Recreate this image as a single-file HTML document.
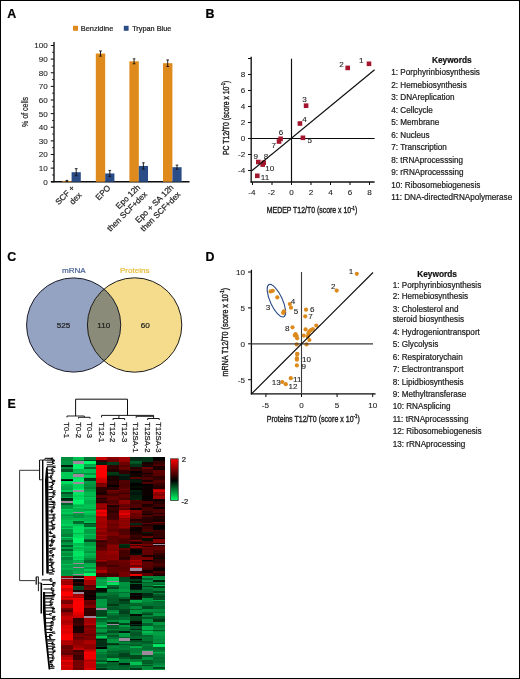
<!DOCTYPE html>
<html><head><meta charset="utf-8"><style>
html,body{margin:0;padding:0;background:#fff;}
body{width:520px;height:679px;overflow:hidden;position:relative;}
svg{position:absolute;left:0;top:0;font-family:"Liberation Sans", sans-serif;}
.frame{position:absolute;left:0;top:0;width:518px;height:677px;border:1px solid #000;}
</style></head><body>
<svg width="520" height="679" viewBox="0 0 520 679">
<defs><filter id="soft" x="0" y="0" width="520" height="679" filterUnits="userSpaceOnUse"><feGaussianBlur stdDeviation="0.3"/></filter></defs>
<rect x="0" y="0" width="520" height="679" fill="#fff"/>
<g filter="url(#soft)">
<text x="7.30" y="18.00" font-size="12.4" text-anchor="start" fill="#000" stroke="#000" stroke-width="0.22" font-weight="bold" >A</text>
<text x="205.60" y="17.90" font-size="12.4" text-anchor="start" fill="#000" stroke="#000" stroke-width="0.22" font-weight="bold" >B</text>
<text x="7.20" y="260.60" font-size="12.4" text-anchor="start" fill="#000" stroke="#000" stroke-width="0.22" font-weight="bold" >C</text>
<text x="205.60" y="260.90" font-size="12.4" text-anchor="start" fill="#000" stroke="#000" stroke-width="0.22" font-weight="bold" >D</text>
<text x="7.60" y="408.00" font-size="12.4" text-anchor="start" fill="#000" stroke="#000" stroke-width="0.22" font-weight="bold" >E</text>
<line x1="54.00" y1="42.00" x2="54.00" y2="182.25" stroke="#0a0a0a" stroke-width="1.3"/>
<line x1="51.00" y1="181.75" x2="189.50" y2="181.75" stroke="#0a0a0a" stroke-width="1.3"/>
<line x1="50.80" y1="181.75" x2="54.00" y2="181.75" stroke="#0a0a0a" stroke-width="1"/>
<text x="47.70" y="184.65" font-size="8.1" text-anchor="end" fill="#1e1e1e" stroke="#1e1e1e" stroke-width="0.1" font-weight="normal" >0</text>
<line x1="50.80" y1="168.12" x2="54.00" y2="168.12" stroke="#0a0a0a" stroke-width="1"/>
<text x="47.70" y="171.03" font-size="8.1" text-anchor="end" fill="#1e1e1e" stroke="#1e1e1e" stroke-width="0.1" font-weight="normal" >10</text>
<line x1="50.80" y1="154.50" x2="54.00" y2="154.50" stroke="#0a0a0a" stroke-width="1"/>
<text x="47.70" y="157.40" font-size="8.1" text-anchor="end" fill="#1e1e1e" stroke="#1e1e1e" stroke-width="0.1" font-weight="normal" >20</text>
<line x1="50.80" y1="140.88" x2="54.00" y2="140.88" stroke="#0a0a0a" stroke-width="1"/>
<text x="47.70" y="143.78" font-size="8.1" text-anchor="end" fill="#1e1e1e" stroke="#1e1e1e" stroke-width="0.1" font-weight="normal" >30</text>
<line x1="50.80" y1="127.25" x2="54.00" y2="127.25" stroke="#0a0a0a" stroke-width="1"/>
<text x="47.70" y="130.15" font-size="8.1" text-anchor="end" fill="#1e1e1e" stroke="#1e1e1e" stroke-width="0.1" font-weight="normal" >40</text>
<line x1="50.80" y1="113.62" x2="54.00" y2="113.62" stroke="#0a0a0a" stroke-width="1"/>
<text x="47.70" y="116.53" font-size="8.1" text-anchor="end" fill="#1e1e1e" stroke="#1e1e1e" stroke-width="0.1" font-weight="normal" >50</text>
<line x1="50.80" y1="100.00" x2="54.00" y2="100.00" stroke="#0a0a0a" stroke-width="1"/>
<text x="47.70" y="102.90" font-size="8.1" text-anchor="end" fill="#1e1e1e" stroke="#1e1e1e" stroke-width="0.1" font-weight="normal" >60</text>
<line x1="50.80" y1="86.38" x2="54.00" y2="86.38" stroke="#0a0a0a" stroke-width="1"/>
<text x="47.70" y="89.28" font-size="8.1" text-anchor="end" fill="#1e1e1e" stroke="#1e1e1e" stroke-width="0.1" font-weight="normal" >70</text>
<line x1="50.80" y1="72.75" x2="54.00" y2="72.75" stroke="#0a0a0a" stroke-width="1"/>
<text x="47.70" y="75.65" font-size="8.1" text-anchor="end" fill="#1e1e1e" stroke="#1e1e1e" stroke-width="0.1" font-weight="normal" >80</text>
<line x1="50.80" y1="59.12" x2="54.00" y2="59.12" stroke="#0a0a0a" stroke-width="1"/>
<text x="47.70" y="62.02" font-size="8.1" text-anchor="end" fill="#1e1e1e" stroke="#1e1e1e" stroke-width="0.1" font-weight="normal" >90</text>
<line x1="50.80" y1="45.50" x2="54.00" y2="45.50" stroke="#0a0a0a" stroke-width="1"/>
<text x="47.70" y="48.40" font-size="8.1" text-anchor="end" fill="#1e1e1e" stroke="#1e1e1e" stroke-width="0.1" font-weight="normal" >100</text>
<line x1="52.20" y1="174.94" x2="54.00" y2="174.94" stroke="#0a0a0a" stroke-width="0.9"/>
<line x1="52.20" y1="161.31" x2="54.00" y2="161.31" stroke="#0a0a0a" stroke-width="0.9"/>
<line x1="52.20" y1="147.69" x2="54.00" y2="147.69" stroke="#0a0a0a" stroke-width="0.9"/>
<line x1="52.20" y1="134.06" x2="54.00" y2="134.06" stroke="#0a0a0a" stroke-width="0.9"/>
<line x1="52.20" y1="120.44" x2="54.00" y2="120.44" stroke="#0a0a0a" stroke-width="0.9"/>
<line x1="52.20" y1="106.81" x2="54.00" y2="106.81" stroke="#0a0a0a" stroke-width="0.9"/>
<line x1="52.20" y1="93.19" x2="54.00" y2="93.19" stroke="#0a0a0a" stroke-width="0.9"/>
<line x1="52.20" y1="79.56" x2="54.00" y2="79.56" stroke="#0a0a0a" stroke-width="0.9"/>
<line x1="52.20" y1="65.94" x2="54.00" y2="65.94" stroke="#0a0a0a" stroke-width="0.9"/>
<line x1="52.20" y1="52.31" x2="54.00" y2="52.31" stroke="#0a0a0a" stroke-width="0.9"/>
<rect x="73.00" y="25.80" width="5.00" height="5.00" fill="#DE8A1C"/>
<text x="80.80" y="31.00" font-size="7.4" text-anchor="start" fill="#1e1e1e" stroke="#1e1e1e" stroke-width="0.22" font-weight="normal" >Benzidine</text>
<rect x="123.80" y="25.80" width="4.80" height="5.00" fill="#2C4D88"/>
<text x="132.20" y="31.00" font-size="7.3" text-anchor="start" fill="#1e1e1e" stroke="#1e1e1e" stroke-width="0.22" font-weight="normal" >Trypan Blue</text>
<rect x="62.20" y="180.93" width="9.40" height="0.82" fill="#DE8A1C"/>
<rect x="71.60" y="172.21" width="9.20" height="9.54" fill="#2C4D88"/>
<line x1="66.90" y1="180.39" x2="66.90" y2="181.48" stroke="#111" stroke-width="0.9"/>
<line x1="65.60" y1="180.39" x2="68.20" y2="180.39" stroke="#111" stroke-width="0.9"/>
<line x1="65.60" y1="181.48" x2="68.20" y2="181.48" stroke="#111" stroke-width="0.9"/>
<line x1="76.20" y1="168.67" x2="76.20" y2="175.75" stroke="#111" stroke-width="0.9"/>
<line x1="74.90" y1="168.67" x2="77.50" y2="168.67" stroke="#111" stroke-width="0.9"/>
<line x1="74.90" y1="175.75" x2="77.50" y2="175.75" stroke="#111" stroke-width="0.9"/>
<rect x="95.80" y="53.54" width="9.40" height="128.21" fill="#DE8A1C"/>
<rect x="105.20" y="173.44" width="9.20" height="8.31" fill="#2C4D88"/>
<line x1="100.50" y1="50.95" x2="100.50" y2="56.13" stroke="#111" stroke-width="0.9"/>
<line x1="99.20" y1="50.95" x2="101.80" y2="50.95" stroke="#111" stroke-width="0.9"/>
<line x1="99.20" y1="56.13" x2="101.80" y2="56.13" stroke="#111" stroke-width="0.9"/>
<line x1="109.80" y1="170.44" x2="109.80" y2="176.44" stroke="#111" stroke-width="0.9"/>
<line x1="108.50" y1="170.44" x2="111.10" y2="170.44" stroke="#111" stroke-width="0.9"/>
<line x1="108.50" y1="176.44" x2="111.10" y2="176.44" stroke="#111" stroke-width="0.9"/>
<rect x="129.40" y="61.30" width="9.40" height="120.45" fill="#DE8A1C"/>
<rect x="138.80" y="165.94" width="9.20" height="15.80" fill="#2C4D88"/>
<line x1="134.10" y1="58.85" x2="134.10" y2="63.76" stroke="#111" stroke-width="0.9"/>
<line x1="132.80" y1="58.85" x2="135.40" y2="58.85" stroke="#111" stroke-width="0.9"/>
<line x1="132.80" y1="63.76" x2="135.40" y2="63.76" stroke="#111" stroke-width="0.9"/>
<line x1="143.40" y1="162.81" x2="143.40" y2="169.08" stroke="#111" stroke-width="0.9"/>
<line x1="142.10" y1="162.81" x2="144.70" y2="162.81" stroke="#111" stroke-width="0.9"/>
<line x1="142.10" y1="169.08" x2="144.70" y2="169.08" stroke="#111" stroke-width="0.9"/>
<rect x="163.00" y="63.21" width="9.40" height="118.54" fill="#DE8A1C"/>
<rect x="172.40" y="167.17" width="9.20" height="14.58" fill="#2C4D88"/>
<line x1="167.70" y1="59.94" x2="167.70" y2="66.48" stroke="#111" stroke-width="0.9"/>
<line x1="166.40" y1="59.94" x2="169.00" y2="59.94" stroke="#111" stroke-width="0.9"/>
<line x1="166.40" y1="66.48" x2="169.00" y2="66.48" stroke="#111" stroke-width="0.9"/>
<line x1="177.00" y1="165.13" x2="177.00" y2="169.22" stroke="#111" stroke-width="0.9"/>
<line x1="175.70" y1="165.13" x2="178.30" y2="165.13" stroke="#111" stroke-width="0.9"/>
<line x1="175.70" y1="169.22" x2="178.30" y2="169.22" stroke="#111" stroke-width="0.9"/>
<text transform="translate(75.20,188.70) rotate(-45)" font-size="8.2" text-anchor="end" fill="#1e1e1e" stroke="#1e1e1e" stroke-width="0.22">SCF +</text>
<text transform="translate(82.10,195.60) rotate(-45)" font-size="8.2" text-anchor="end" fill="#1e1e1e" stroke="#1e1e1e" stroke-width="0.22">dex</text>
<text transform="translate(111.10,188.50) rotate(-45)" font-size="8.2" text-anchor="end" fill="#1e1e1e" stroke="#1e1e1e" stroke-width="0.22">EPO</text>
<text transform="translate(140.70,187.90) rotate(-45)" font-size="8.2" text-anchor="end" fill="#1e1e1e" stroke="#1e1e1e" stroke-width="0.22">Epo 12h</text>
<text transform="translate(147.60,194.80) rotate(-45)" font-size="8.2" text-anchor="end" fill="#1e1e1e" stroke="#1e1e1e" stroke-width="0.22">then SCF+dex</text>
<text transform="translate(174.10,187.90) rotate(-45)" font-size="8.2" text-anchor="end" fill="#1e1e1e" stroke="#1e1e1e" stroke-width="0.22">Epo + SA 12h</text>
<text transform="translate(181.00,194.80) rotate(-45)" font-size="8.2" text-anchor="end" fill="#1e1e1e" stroke="#1e1e1e" stroke-width="0.22">then SCF+dex</text>
<text transform="translate(27.9,111.9) rotate(-90)" font-size="9.6" text-anchor="middle" fill="#1e1e1e" stroke="#1e1e1e" stroke-width="0.22" textLength="30" lengthAdjust="spacingAndGlyphs">% of cells</text>
<line x1="251.20" y1="56.70" x2="251.20" y2="182.50" stroke="#0a0a0a" stroke-width="1.3"/>
<line x1="250.60" y1="182.00" x2="374.60" y2="182.00" stroke="#0a0a0a" stroke-width="1.3"/>
<line x1="251.20" y1="138.50" x2="374.60" y2="138.50" stroke="#0a0a0a" stroke-width="1.15"/>
<line x1="291.50" y1="58.70" x2="291.50" y2="182.00" stroke="#0a0a0a" stroke-width="1.15"/>
<line x1="248.00" y1="170.50" x2="251.20" y2="170.50" stroke="#0a0a0a" stroke-width="1"/>
<text x="245.30" y="173.40" font-size="8.1" text-anchor="end" fill="#1e1e1e" stroke="#1e1e1e" stroke-width="0.1" font-weight="normal" >-4</text>
<line x1="248.00" y1="154.50" x2="251.20" y2="154.50" stroke="#0a0a0a" stroke-width="1"/>
<text x="245.30" y="157.40" font-size="8.1" text-anchor="end" fill="#1e1e1e" stroke="#1e1e1e" stroke-width="0.1" font-weight="normal" >-2</text>
<line x1="248.00" y1="138.50" x2="251.20" y2="138.50" stroke="#0a0a0a" stroke-width="1"/>
<text x="245.30" y="141.40" font-size="8.1" text-anchor="end" fill="#1e1e1e" stroke="#1e1e1e" stroke-width="0.1" font-weight="normal" >0</text>
<line x1="248.00" y1="122.50" x2="251.20" y2="122.50" stroke="#0a0a0a" stroke-width="1"/>
<text x="245.30" y="125.40" font-size="8.1" text-anchor="end" fill="#1e1e1e" stroke="#1e1e1e" stroke-width="0.1" font-weight="normal" >2</text>
<line x1="248.00" y1="106.50" x2="251.20" y2="106.50" stroke="#0a0a0a" stroke-width="1"/>
<text x="245.30" y="109.40" font-size="8.1" text-anchor="end" fill="#1e1e1e" stroke="#1e1e1e" stroke-width="0.1" font-weight="normal" >4</text>
<line x1="248.00" y1="90.50" x2="251.20" y2="90.50" stroke="#0a0a0a" stroke-width="1"/>
<text x="245.30" y="93.40" font-size="8.1" text-anchor="end" fill="#1e1e1e" stroke="#1e1e1e" stroke-width="0.1" font-weight="normal" >6</text>
<line x1="248.00" y1="74.50" x2="251.20" y2="74.50" stroke="#0a0a0a" stroke-width="1"/>
<text x="245.30" y="77.40" font-size="8.1" text-anchor="end" fill="#1e1e1e" stroke="#1e1e1e" stroke-width="0.1" font-weight="normal" >8</text>
<line x1="248.00" y1="58.50" x2="251.20" y2="58.50" stroke="#0a0a0a" stroke-width="1"/>
<line x1="252.50" y1="182.00" x2="252.50" y2="185.00" stroke="#0a0a0a" stroke-width="1"/>
<text x="251.90" y="195.40" font-size="8.1" text-anchor="middle" fill="#1e1e1e" stroke="#1e1e1e" stroke-width="0.1" font-weight="normal" >-4</text>
<line x1="272.00" y1="182.00" x2="272.00" y2="185.00" stroke="#0a0a0a" stroke-width="1"/>
<text x="271.40" y="195.40" font-size="8.1" text-anchor="middle" fill="#1e1e1e" stroke="#1e1e1e" stroke-width="0.1" font-weight="normal" >-2</text>
<line x1="291.50" y1="182.00" x2="291.50" y2="185.00" stroke="#0a0a0a" stroke-width="1"/>
<text x="291.50" y="195.40" font-size="8.1" text-anchor="middle" fill="#1e1e1e" stroke="#1e1e1e" stroke-width="0.1" font-weight="normal" >0</text>
<line x1="311.00" y1="182.00" x2="311.00" y2="185.00" stroke="#0a0a0a" stroke-width="1"/>
<text x="311.00" y="195.40" font-size="8.1" text-anchor="middle" fill="#1e1e1e" stroke="#1e1e1e" stroke-width="0.1" font-weight="normal" >2</text>
<line x1="330.50" y1="182.00" x2="330.50" y2="185.00" stroke="#0a0a0a" stroke-width="1"/>
<text x="330.50" y="195.40" font-size="8.1" text-anchor="middle" fill="#1e1e1e" stroke="#1e1e1e" stroke-width="0.1" font-weight="normal" >4</text>
<line x1="350.00" y1="182.00" x2="350.00" y2="185.00" stroke="#0a0a0a" stroke-width="1"/>
<text x="350.00" y="195.40" font-size="8.1" text-anchor="middle" fill="#1e1e1e" stroke="#1e1e1e" stroke-width="0.1" font-weight="normal" >6</text>
<line x1="369.50" y1="182.00" x2="369.50" y2="185.00" stroke="#0a0a0a" stroke-width="1"/>
<text x="369.50" y="195.40" font-size="8.1" text-anchor="middle" fill="#1e1e1e" stroke="#1e1e1e" stroke-width="0.1" font-weight="normal" >8</text>
<rect x="366.70" y="61.50" width="4.60" height="4.60" fill="#A3182F"/>
<rect x="345.40" y="65.60" width="4.60" height="4.60" fill="#A3182F"/>
<rect x="303.80" y="103.40" width="4.60" height="4.60" fill="#A3182F"/>
<rect x="297.60" y="121.20" width="4.60" height="4.60" fill="#A3182F"/>
<rect x="300.60" y="135.50" width="4.60" height="4.60" fill="#A3182F"/>
<rect x="278.30" y="136.50" width="4.60" height="4.60" fill="#A3182F"/>
<rect x="276.70" y="139.20" width="4.60" height="4.60" fill="#A3182F"/>
<rect x="261.40" y="160.40" width="4.60" height="4.60" fill="#A3182F"/>
<rect x="256.00" y="159.70" width="4.60" height="4.60" fill="#A3182F"/>
<rect x="260.40" y="162.30" width="4.60" height="4.60" fill="#A3182F"/>
<rect x="255.00" y="173.50" width="4.60" height="4.60" fill="#A3182F"/>
<line x1="251.50" y1="171.00" x2="374.60" y2="69.80" stroke="#0a0a0a" stroke-width="1.15"/>
<text x="361.20" y="62.90" font-size="8.1" text-anchor="middle" fill="#1e1e1e" stroke="#1e1e1e" stroke-width="0.1" font-weight="normal" >1</text>
<text x="341.50" y="67.30" font-size="8.1" text-anchor="middle" fill="#1e1e1e" stroke="#1e1e1e" stroke-width="0.1" font-weight="normal" >2</text>
<text x="304.60" y="101.90" font-size="8.1" text-anchor="middle" fill="#1e1e1e" stroke="#1e1e1e" stroke-width="0.1" font-weight="normal" >3</text>
<text x="304.60" y="121.70" font-size="8.1" text-anchor="middle" fill="#1e1e1e" stroke="#1e1e1e" stroke-width="0.1" font-weight="normal" >4</text>
<text x="309.80" y="143.10" font-size="8.1" text-anchor="middle" fill="#1e1e1e" stroke="#1e1e1e" stroke-width="0.1" font-weight="normal" >5</text>
<text x="281.00" y="135.40" font-size="8.1" text-anchor="middle" fill="#1e1e1e" stroke="#1e1e1e" stroke-width="0.1" font-weight="normal" >6</text>
<text x="273.70" y="148.30" font-size="8.1" text-anchor="middle" fill="#1e1e1e" stroke="#1e1e1e" stroke-width="0.1" font-weight="normal" >7</text>
<text x="266.00" y="159.10" font-size="8.1" text-anchor="middle" fill="#1e1e1e" stroke="#1e1e1e" stroke-width="0.1" font-weight="normal" >8</text>
<text x="255.80" y="159.40" font-size="8.1" text-anchor="middle" fill="#1e1e1e" stroke="#1e1e1e" stroke-width="0.1" font-weight="normal" >9</text>
<text x="269.80" y="170.60" font-size="8.1" text-anchor="middle" fill="#1e1e1e" stroke="#1e1e1e" stroke-width="0.1" font-weight="normal" >10</text>
<text x="265.00" y="179.60" font-size="8.1" text-anchor="middle" fill="#1e1e1e" stroke="#1e1e1e" stroke-width="0.1" font-weight="normal" >11</text>
<text transform="translate(266.80,213.10) scale(0.7712,1)" font-size="9.0" style="fill:#1e1e1e;stroke:#1e1e1e;stroke-width:0.38px">MEDEP T12/T0 (score x 10<tspan font-size="5.58" dy="-3.6">-1</tspan><tspan dy="3.6">)</tspan></text>
<text transform="translate(229.00,155.00) rotate(-90) scale(0.7581,1)" font-size="9.0" style="fill:#1e1e1e;stroke:#1e1e1e;stroke-width:0.38px">PC T12/T0 (score x 10<tspan font-size="5.58" dy="-3.6">-1</tspan><tspan dy="3.6">)</tspan></text>
<text x="451.75" y="62.50" font-size="8.3" text-anchor="middle" fill="#111" stroke="#111" stroke-width="0.22" font-weight="bold" >Keywords</text>
<text x="391.30" y="75.40" font-size="8.15" text-anchor="start" fill="#1e1e1e" stroke="#1e1e1e" stroke-width="0.22" font-weight="normal" >1: Porphyrinbiosynthesis</text>
<text x="391.30" y="87.87" font-size="8.15" text-anchor="start" fill="#1e1e1e" stroke="#1e1e1e" stroke-width="0.22" font-weight="normal" >2: Hemebiosynthesis</text>
<text x="391.30" y="100.34" font-size="8.15" text-anchor="start" fill="#1e1e1e" stroke="#1e1e1e" stroke-width="0.22" font-weight="normal" >3: DNAreplication</text>
<text x="391.30" y="112.81" font-size="8.15" text-anchor="start" fill="#1e1e1e" stroke="#1e1e1e" stroke-width="0.22" font-weight="normal" >4: Cellcycle</text>
<text x="391.30" y="125.28" font-size="8.15" text-anchor="start" fill="#1e1e1e" stroke="#1e1e1e" stroke-width="0.22" font-weight="normal" >5: Membrane</text>
<text x="391.30" y="137.75" font-size="8.15" text-anchor="start" fill="#1e1e1e" stroke="#1e1e1e" stroke-width="0.22" font-weight="normal" >6: Nucleus</text>
<text x="391.30" y="150.22" font-size="8.15" text-anchor="start" fill="#1e1e1e" stroke="#1e1e1e" stroke-width="0.22" font-weight="normal" >7: Transcription</text>
<text x="391.30" y="162.69" font-size="8.15" text-anchor="start" fill="#1e1e1e" stroke="#1e1e1e" stroke-width="0.22" font-weight="normal" >8: tRNAprocesssing</text>
<text x="391.30" y="175.16" font-size="8.15" text-anchor="start" fill="#1e1e1e" stroke="#1e1e1e" stroke-width="0.22" font-weight="normal" >9: rRNAprocesssing</text>
<text x="391.30" y="187.63" font-size="8.15" text-anchor="start" fill="#1e1e1e" stroke="#1e1e1e" stroke-width="0.22" font-weight="normal" >10: Ribosomebiogenesis</text>
<text x="391.30" y="200.10" font-size="8.15" text-anchor="start" fill="#1e1e1e" stroke="#1e1e1e" stroke-width="0.22" font-weight="normal" >11: DNA-directedRNApolymerase</text>
<defs><clipPath id="cl"><circle cx="73.65" cy="325" r="47.1"/></clipPath></defs>
<circle cx="73.65" cy="325" r="47.1" fill="#93A3C1"/>
<circle cx="134.6" cy="325" r="47.2" fill="#F5DC8C"/>
<circle cx="134.6" cy="325" r="47.2" fill="#8A8B78" clip-path="url(#cl)"/>
<circle cx="73.65" cy="325" r="47.1" fill="none" stroke="#1c1c2a" stroke-width="1"/>
<circle cx="134.6" cy="325" r="47.2" fill="none" stroke="#1c1c1c" stroke-width="1"/>
<text x="73.85" y="272.60" font-size="8.1" text-anchor="middle" fill="#4A6496" stroke="#4A6496" stroke-width="0.22" font-weight="normal" >mRNA</text>
<text x="134.75" y="272.60" font-size="8.1" text-anchor="middle" fill="#E8BC3C" stroke="#E8BC3C" stroke-width="0.22" font-weight="normal" >Proteins</text>
<text x="63.50" y="327.50" font-size="8.1" text-anchor="middle" fill="#1e1e1e" stroke="#1e1e1e" stroke-width="0.22" font-weight="normal" >525</text>
<text x="103.80" y="327.50" font-size="8.1" text-anchor="middle" fill="#1e1e1e" stroke="#1e1e1e" stroke-width="0.22" font-weight="normal" >110</text>
<text x="145.30" y="327.50" font-size="8.1" text-anchor="middle" fill="#1e1e1e" stroke="#1e1e1e" stroke-width="0.22" font-weight="normal" >60</text>
<line x1="251.40" y1="269.80" x2="251.40" y2="394.30" stroke="#0a0a0a" stroke-width="1.3"/>
<line x1="250.80" y1="393.80" x2="375.60" y2="393.80" stroke="#0a0a0a" stroke-width="1.3"/>
<line x1="248.00" y1="379.70" x2="251.40" y2="379.70" stroke="#0a0a0a" stroke-width="1"/>
<text x="245.00" y="382.60" font-size="8.1" text-anchor="end" fill="#1e1e1e" stroke="#1e1e1e" stroke-width="0.1" font-weight="normal" >-5</text>
<line x1="248.00" y1="343.80" x2="251.40" y2="343.80" stroke="#0a0a0a" stroke-width="1"/>
<text x="245.00" y="346.70" font-size="8.1" text-anchor="end" fill="#1e1e1e" stroke="#1e1e1e" stroke-width="0.1" font-weight="normal" >0</text>
<line x1="248.00" y1="307.90" x2="251.40" y2="307.90" stroke="#0a0a0a" stroke-width="1"/>
<text x="245.00" y="310.80" font-size="8.1" text-anchor="end" fill="#1e1e1e" stroke="#1e1e1e" stroke-width="0.1" font-weight="normal" >5</text>
<line x1="248.00" y1="272.00" x2="251.40" y2="272.00" stroke="#0a0a0a" stroke-width="1"/>
<text x="245.00" y="274.90" font-size="8.1" text-anchor="end" fill="#1e1e1e" stroke="#1e1e1e" stroke-width="0.1" font-weight="normal" >10</text>
<line x1="265.90" y1="393.80" x2="265.90" y2="397.00" stroke="#0a0a0a" stroke-width="1"/>
<text x="265.30" y="408.10" font-size="8.1" text-anchor="middle" fill="#1e1e1e" stroke="#1e1e1e" stroke-width="0.1" font-weight="normal" >-5</text>
<line x1="301.50" y1="393.80" x2="301.50" y2="397.00" stroke="#0a0a0a" stroke-width="1"/>
<text x="301.50" y="408.10" font-size="8.1" text-anchor="middle" fill="#1e1e1e" stroke="#1e1e1e" stroke-width="0.1" font-weight="normal" >0</text>
<line x1="337.10" y1="393.80" x2="337.10" y2="397.00" stroke="#0a0a0a" stroke-width="1"/>
<text x="337.10" y="408.10" font-size="8.1" text-anchor="middle" fill="#1e1e1e" stroke="#1e1e1e" stroke-width="0.1" font-weight="normal" >5</text>
<line x1="372.70" y1="393.80" x2="372.70" y2="397.00" stroke="#0a0a0a" stroke-width="1"/>
<text x="372.70" y="408.10" font-size="8.1" text-anchor="middle" fill="#1e1e1e" stroke="#1e1e1e" stroke-width="0.1" font-weight="normal" >10</text>
<ellipse cx="276.4" cy="300.7" rx="17.7" ry="6.1" transform="rotate(65.5 276.4 300.7)" fill="none" stroke="#2A4A88" stroke-width="1.1"/>
<circle cx="356.8" cy="273.8" r="2.1" fill="#DC8A1E"/>
<circle cx="336.7" cy="290.6" r="2.1" fill="#DC8A1E"/>
<circle cx="270.6" cy="291.4" r="2.1" fill="#DC8A1E"/>
<circle cx="272.8" cy="290.8" r="2.1" fill="#DC8A1E"/>
<circle cx="277.3" cy="297.4" r="2.1" fill="#DC8A1E"/>
<circle cx="283.9" cy="311.3" r="2.1" fill="#DC8A1E"/>
<circle cx="283.2" cy="312.9" r="2.1" fill="#DC8A1E"/>
<circle cx="289.8" cy="304" r="2.1" fill="#DC8A1E"/>
<circle cx="291" cy="307.7" r="2.1" fill="#DC8A1E"/>
<circle cx="306" cy="309.7" r="2.1" fill="#DC8A1E"/>
<circle cx="305.2" cy="316.3" r="2.1" fill="#DC8A1E"/>
<circle cx="292.5" cy="327.3" r="2.1" fill="#DC8A1E"/>
<circle cx="295.6" cy="334.2" r="2.1" fill="#DC8A1E"/>
<circle cx="294.8" cy="335.4" r="2.1" fill="#DC8A1E"/>
<circle cx="296.7" cy="336" r="2.1" fill="#DC8A1E"/>
<circle cx="297.1" cy="338.3" r="2.1" fill="#DC8A1E"/>
<circle cx="296.7" cy="344.4" r="2.1" fill="#DC8A1E"/>
<circle cx="306.5" cy="344.4" r="2.1" fill="#DC8A1E"/>
<circle cx="303.7" cy="335.6" r="2.1" fill="#DC8A1E"/>
<circle cx="305.6" cy="329.4" r="2.1" fill="#DC8A1E"/>
<circle cx="308.3" cy="333.7" r="2.1" fill="#DC8A1E"/>
<circle cx="309.4" cy="331.3" r="2.1" fill="#DC8A1E"/>
<circle cx="310.9" cy="330.2" r="2.1" fill="#DC8A1E"/>
<circle cx="312.9" cy="329" r="2.1" fill="#DC8A1E"/>
<circle cx="316.3" cy="325.6" r="2.1" fill="#DC8A1E"/>
<circle cx="309.4" cy="340" r="2.1" fill="#DC8A1E"/>
<circle cx="307.7" cy="336.5" r="2.1" fill="#DC8A1E"/>
<circle cx="297.3" cy="353.8" r="2.1" fill="#DC8A1E"/>
<circle cx="297.2" cy="354.2" r="2.1" fill="#DC8A1E"/>
<circle cx="296.9" cy="358.2" r="2.1" fill="#DC8A1E"/>
<circle cx="296.9" cy="359.7" r="2.1" fill="#DC8A1E"/>
<circle cx="296.9" cy="365.4" r="2.1" fill="#DC8A1E"/>
<circle cx="290.8" cy="378.2" r="2.1" fill="#DC8A1E"/>
<circle cx="282.3" cy="382" r="2.1" fill="#DC8A1E"/>
<circle cx="285.8" cy="384.2" r="2.1" fill="#DC8A1E"/>
<line x1="301.50" y1="272.00" x2="301.50" y2="393.80" stroke="#3a3a3a" stroke-width="1.1"/>
<line x1="251.40" y1="343.80" x2="373.00" y2="343.80" stroke="#3a3a3a" stroke-width="1.3"/>
<line x1="251.50" y1="393.80" x2="373.00" y2="272.50" stroke="#0a0a0a" stroke-width="1.15"/>
<text x="351.00" y="274.10" font-size="8.1" text-anchor="middle" fill="#1e1e1e" stroke="#1e1e1e" stroke-width="0.1" font-weight="normal" >1</text>
<text x="333.20" y="289.20" font-size="8.1" text-anchor="middle" fill="#1e1e1e" stroke="#1e1e1e" stroke-width="0.1" font-weight="normal" >2</text>
<text x="268.00" y="310.30" font-size="8.1" text-anchor="middle" fill="#1e1e1e" stroke="#1e1e1e" stroke-width="0.1" font-weight="normal" >3</text>
<text x="293.00" y="304.30" font-size="8.1" text-anchor="middle" fill="#1e1e1e" stroke="#1e1e1e" stroke-width="0.1" font-weight="normal" >4</text>
<text x="296.00" y="313.80" font-size="8.1" text-anchor="middle" fill="#1e1e1e" stroke="#1e1e1e" stroke-width="0.1" font-weight="normal" >5</text>
<text x="312.30" y="312.30" font-size="8.1" text-anchor="middle" fill="#1e1e1e" stroke="#1e1e1e" stroke-width="0.1" font-weight="normal" >6</text>
<text x="310.60" y="319.00" font-size="8.1" text-anchor="middle" fill="#1e1e1e" stroke="#1e1e1e" stroke-width="0.1" font-weight="normal" >7</text>
<text x="287.20" y="330.80" font-size="8.1" text-anchor="middle" fill="#1e1e1e" stroke="#1e1e1e" stroke-width="0.1" font-weight="normal" >8</text>
<text x="303.80" y="368.70" font-size="8.1" text-anchor="middle" fill="#1e1e1e" stroke="#1e1e1e" stroke-width="0.1" font-weight="normal" >9</text>
<text x="306.50" y="362.10" font-size="8.1" text-anchor="middle" fill="#1e1e1e" stroke="#1e1e1e" stroke-width="0.1" font-weight="normal" >10</text>
<text x="297.20" y="382.10" font-size="8.1" text-anchor="middle" fill="#1e1e1e" stroke="#1e1e1e" stroke-width="0.1" font-weight="normal" >11</text>
<text x="293.10" y="389.40" font-size="8.1" text-anchor="middle" fill="#1e1e1e" stroke="#1e1e1e" stroke-width="0.1" font-weight="normal" >12</text>
<text x="276.20" y="384.70" font-size="8.1" text-anchor="middle" fill="#1e1e1e" stroke="#1e1e1e" stroke-width="0.1" font-weight="normal" >13</text>
<text transform="translate(266.80,422.00) scale(0.7829,1)" font-size="9.0" style="fill:#1e1e1e;stroke:#1e1e1e;stroke-width:0.38px">Proteins T12/T0 (score x 10<tspan font-size="5.58" dy="-3.6">-1</tspan><tspan dy="3.6">)</tspan></text>
<text transform="translate(227.60,376.50) rotate(-90) scale(0.7943,1)" font-size="9.0" style="fill:#1e1e1e;stroke:#1e1e1e;stroke-width:0.38px">mRNA T12/T0 (score x 10<tspan font-size="5.58" dy="-3.6">-1</tspan><tspan dy="3.6">)</tspan></text>
<text x="437.10" y="276.50" font-size="8.3" text-anchor="middle" fill="#111" stroke="#111" stroke-width="0.22" font-weight="bold" >Keywords</text>
<text x="392.70" y="287.70" font-size="8.15" text-anchor="start" fill="#1e1e1e" stroke="#1e1e1e" stroke-width="0.22" font-weight="normal" >1: Porphyrinbiosynthesis</text>
<text x="392.70" y="299.20" font-size="8.15" text-anchor="start" fill="#1e1e1e" stroke="#1e1e1e" stroke-width="0.22" font-weight="normal" >2: Hemebiosynthesis</text>
<text x="392.70" y="312.20" font-size="8.15" text-anchor="start" fill="#1e1e1e" stroke="#1e1e1e" stroke-width="0.22" font-weight="normal" >3: Cholesterol and</text>
<text x="392.70" y="321.60" font-size="8.15" text-anchor="start" fill="#1e1e1e" stroke="#1e1e1e" stroke-width="0.22" font-weight="normal" >steroid biosynthesis</text>
<text x="392.70" y="334.80" font-size="8.15" text-anchor="start" fill="#1e1e1e" stroke="#1e1e1e" stroke-width="0.22" font-weight="normal" >4: Hydrogeniontransport</text>
<text x="392.70" y="347.20" font-size="8.15" text-anchor="start" fill="#1e1e1e" stroke="#1e1e1e" stroke-width="0.22" font-weight="normal" >5: Glycolysis</text>
<text x="392.70" y="359.90" font-size="8.15" text-anchor="start" fill="#1e1e1e" stroke="#1e1e1e" stroke-width="0.22" font-weight="normal" >6: Respiratorychain</text>
<text x="392.70" y="372.00" font-size="8.15" text-anchor="start" fill="#1e1e1e" stroke="#1e1e1e" stroke-width="0.22" font-weight="normal" >7: Electrontransport</text>
<text x="392.70" y="384.60" font-size="8.15" text-anchor="start" fill="#1e1e1e" stroke="#1e1e1e" stroke-width="0.22" font-weight="normal" >8: Lipidbiosynthesis</text>
<text x="392.70" y="397.30" font-size="8.15" text-anchor="start" fill="#1e1e1e" stroke="#1e1e1e" stroke-width="0.22" font-weight="normal" >9: Methyltransferase</text>
<text x="392.70" y="409.40" font-size="8.15" text-anchor="start" fill="#1e1e1e" stroke="#1e1e1e" stroke-width="0.22" font-weight="normal" >10: RNAsplicing</text>
<text x="392.70" y="422.30" font-size="8.15" text-anchor="start" fill="#1e1e1e" stroke="#1e1e1e" stroke-width="0.22" font-weight="normal" >11: tRNAprocesssing</text>
<text x="392.70" y="434.40" font-size="8.15" text-anchor="start" fill="#1e1e1e" stroke="#1e1e1e" stroke-width="0.22" font-weight="normal" >12: Ribosomebiogenesis</text>
<text x="392.70" y="447.10" font-size="8.15" text-anchor="start" fill="#1e1e1e" stroke="#1e1e1e" stroke-width="0.22" font-weight="normal" >13: rRNAprocessing</text>
<g shape-rendering="crispEdges">
<rect x="61.20" y="457.40" width="11.93" height="3.90" fill="#008e3d"/>
<rect x="61.20" y="460.90" width="11.93" height="0.70" fill="#007934"/>
<rect x="61.20" y="461.20" width="11.93" height="3.80" fill="#009540"/>
<rect x="61.20" y="464.60" width="11.93" height="2.40" fill="#001a0b"/>
<rect x="61.20" y="466.60" width="11.93" height="0.80" fill="#003015"/>
<rect x="61.20" y="467.00" width="11.93" height="1.90" fill="#008b3c"/>
<rect x="61.20" y="468.50" width="11.93" height="1.30" fill="#006e2f"/>
<rect x="61.20" y="469.40" width="11.93" height="3.20" fill="#005323"/>
<rect x="61.20" y="472.20" width="11.93" height="2.40" fill="#00cb57"/>
<rect x="61.20" y="474.20" width="11.93" height="3.90" fill="#00ca57"/>
<rect x="61.20" y="477.70" width="11.93" height="1.40" fill="#00ca57"/>
<rect x="61.20" y="478.70" width="11.93" height="1.10" fill="#00ba50"/>
<rect x="61.20" y="479.40" width="11.93" height="1.40" fill="#002a12"/>
<rect x="61.20" y="480.40" width="11.93" height="1.30" fill="#030000"/>
<rect x="61.20" y="481.30" width="11.93" height="2.80" fill="#00de5f"/>
<rect x="61.20" y="483.70" width="11.93" height="2.40" fill="#00b54e"/>
<rect x="61.20" y="485.70" width="11.93" height="2.90" fill="#00a948"/>
<rect x="61.20" y="488.20" width="11.93" height="1.90" fill="#00a346"/>
<rect x="61.20" y="489.70" width="11.93" height="3.00" fill="#00cb57"/>
<rect x="61.20" y="492.30" width="11.93" height="2.30" fill="#005223"/>
<rect x="61.20" y="494.20" width="11.93" height="3.40" fill="#008238"/>
<rect x="61.20" y="497.20" width="11.93" height="1.20" fill="#00aa49"/>
<rect x="61.20" y="498.00" width="11.93" height="1.40" fill="#001a0b"/>
<rect x="61.20" y="499.00" width="11.93" height="1.40" fill="#002610"/>
<rect x="61.20" y="500.00" width="11.93" height="1.30" fill="#003517"/>
<rect x="61.20" y="500.90" width="11.93" height="1.40" fill="#9e8a9c"/>
<rect x="61.20" y="501.90" width="11.93" height="1.30" fill="#9e8a9c"/>
<rect x="61.20" y="502.80" width="11.93" height="2.40" fill="#005f29"/>
<rect x="61.20" y="504.80" width="11.93" height="1.90" fill="#00933f"/>
<rect x="61.20" y="506.30" width="11.93" height="2.40" fill="#009640"/>
<rect x="61.20" y="508.30" width="11.93" height="0.70" fill="#009942"/>
<rect x="61.20" y="508.60" width="11.93" height="1.40" fill="#00cf59"/>
<rect x="61.20" y="509.60" width="11.93" height="2.40" fill="#00bb50"/>
<rect x="61.20" y="511.60" width="11.93" height="3.10" fill="#00c956"/>
<rect x="61.20" y="514.30" width="11.93" height="1.40" fill="#00a848"/>
<rect x="61.20" y="515.30" width="11.93" height="1.40" fill="#00943f"/>
<rect x="61.20" y="516.30" width="11.93" height="1.40" fill="#00ae4a"/>
<rect x="61.20" y="517.30" width="11.93" height="1.40" fill="#00a748"/>
<rect x="61.20" y="518.30" width="11.93" height="1.90" fill="#00b04b"/>
<rect x="61.20" y="519.80" width="11.93" height="2.90" fill="#00c253"/>
<rect x="61.20" y="522.30" width="11.93" height="1.90" fill="#00c153"/>
<rect x="61.20" y="523.80" width="11.93" height="2.90" fill="#00d35a"/>
<rect x="61.20" y="526.30" width="11.93" height="1.40" fill="#00ac4a"/>
<rect x="61.20" y="527.30" width="11.93" height="1.40" fill="#00a747"/>
<rect x="61.20" y="528.30" width="11.93" height="1.50" fill="#00ce58"/>
<rect x="61.20" y="529.40" width="11.93" height="3.90" fill="#00933f"/>
<rect x="61.20" y="532.90" width="11.93" height="1.40" fill="#00913e"/>
<rect x="61.20" y="533.90" width="11.93" height="3.40" fill="#008037"/>
<rect x="61.20" y="536.90" width="11.93" height="1.40" fill="#00ce58"/>
<rect x="61.20" y="537.90" width="11.93" height="2.40" fill="#009b42"/>
<rect x="61.20" y="539.90" width="11.93" height="2.80" fill="#006a2d"/>
<rect x="61.20" y="542.30" width="11.93" height="1.40" fill="#00903e"/>
<rect x="61.20" y="543.30" width="11.93" height="1.40" fill="#009640"/>
<rect x="61.20" y="544.30" width="11.93" height="0.80" fill="#009f44"/>
<rect x="61.20" y="544.70" width="11.93" height="2.30" fill="#005d28"/>
<rect x="61.20" y="546.60" width="11.93" height="3.20" fill="#00a045"/>
<rect x="61.20" y="549.40" width="11.93" height="2.40" fill="#005f29"/>
<rect x="61.20" y="551.40" width="11.93" height="2.40" fill="#00a045"/>
<rect x="61.20" y="553.40" width="11.93" height="2.90" fill="#008e3d"/>
<rect x="61.20" y="555.90" width="11.93" height="1.40" fill="#00b94f"/>
<rect x="61.20" y="556.90" width="11.93" height="1.90" fill="#008137"/>
<rect x="61.20" y="558.40" width="11.93" height="2.00" fill="#008037"/>
<rect x="61.20" y="560.00" width="11.93" height="3.90" fill="#009b42"/>
<rect x="61.20" y="563.50" width="11.93" height="1.40" fill="#00bf52"/>
<rect x="61.20" y="564.50" width="11.93" height="0.70" fill="#00c052"/>
<rect x="61.20" y="564.80" width="11.93" height="2.40" fill="#00a245"/>
<rect x="61.20" y="566.80" width="11.93" height="1.40" fill="#00a346"/>
<rect x="61.20" y="567.80" width="11.93" height="2.90" fill="#00b04b"/>
<rect x="61.20" y="570.30" width="11.93" height="3.90" fill="#00933f"/>
<rect x="61.20" y="573.80" width="11.93" height="1.40" fill="#009f44"/>
<rect x="61.20" y="574.80" width="11.93" height="1.90" fill="#009a42"/>
<rect x="61.20" y="576.30" width="11.93" height="1.40" fill="#9d0000"/>
<rect x="61.20" y="577.30" width="11.93" height="1.10" fill="#920000"/>
<rect x="61.20" y="578.00" width="11.93" height="1.60" fill="#9e8a9c"/>
<rect x="61.20" y="579.20" width="11.93" height="1.20" fill="#930000"/>
<rect x="61.20" y="580.00" width="11.93" height="1.40" fill="#bc0000"/>
<rect x="61.20" y="581.00" width="11.93" height="2.40" fill="#9c0000"/>
<rect x="61.20" y="583.00" width="11.93" height="1.40" fill="#a70000"/>
<rect x="61.20" y="584.00" width="11.93" height="1.40" fill="#950000"/>
<rect x="61.20" y="585.00" width="11.93" height="1.40" fill="#ff0000"/>
<rect x="61.20" y="586.00" width="11.93" height="1.90" fill="#ff0000"/>
<rect x="61.20" y="587.50" width="11.93" height="3.90" fill="#d30000"/>
<rect x="61.20" y="591.00" width="11.93" height="1.40" fill="#e60000"/>
<rect x="61.20" y="592.00" width="11.93" height="1.90" fill="#ff0000"/>
<rect x="61.20" y="593.50" width="11.93" height="2.40" fill="#ff0000"/>
<rect x="61.20" y="595.50" width="11.93" height="0.90" fill="#ff0000"/>
<rect x="61.20" y="596.00" width="11.93" height="2.40" fill="#cb0000"/>
<rect x="61.20" y="598.00" width="11.93" height="1.40" fill="#ed0000"/>
<rect x="61.20" y="599.00" width="11.93" height="1.40" fill="#cd0000"/>
<rect x="61.20" y="600.00" width="11.93" height="1.40" fill="#840000"/>
<rect x="61.20" y="601.00" width="11.93" height="3.40" fill="#780000"/>
<rect x="61.20" y="604.00" width="11.93" height="2.40" fill="#be0000"/>
<rect x="61.20" y="606.00" width="11.93" height="2.40" fill="#bf0000"/>
<rect x="61.20" y="608.00" width="11.93" height="1.40" fill="#780000"/>
<rect x="61.20" y="609.00" width="11.93" height="1.40" fill="#670000"/>
<rect x="61.20" y="610.00" width="11.93" height="2.40" fill="#590000"/>
<rect x="61.20" y="612.00" width="11.93" height="1.40" fill="#8c0000"/>
<rect x="61.20" y="613.00" width="11.93" height="2.40" fill="#9c0000"/>
<rect x="61.20" y="615.00" width="11.93" height="1.40" fill="#a90000"/>
<rect x="61.20" y="616.00" width="11.93" height="1.90" fill="#c50000"/>
<rect x="61.20" y="617.50" width="11.93" height="2.40" fill="#c50000"/>
<rect x="61.20" y="619.50" width="11.93" height="1.90" fill="#b70000"/>
<rect x="61.20" y="621.00" width="11.93" height="1.90" fill="#ab0000"/>
<rect x="61.20" y="622.50" width="11.93" height="2.40" fill="#bb0000"/>
<rect x="61.20" y="624.50" width="11.93" height="0.90" fill="#c60000"/>
<rect x="61.20" y="625.00" width="11.93" height="3.40" fill="#da0000"/>
<rect x="61.20" y="628.00" width="11.93" height="1.90" fill="#df0000"/>
<rect x="61.20" y="629.50" width="11.93" height="1.40" fill="#e40000"/>
<rect x="61.20" y="630.50" width="11.93" height="2.90" fill="#d80000"/>
<rect x="61.20" y="633.00" width="11.93" height="2.40" fill="#ef0000"/>
<rect x="61.20" y="635.00" width="11.93" height="3.90" fill="#f60000"/>
<rect x="61.20" y="638.50" width="11.93" height="1.90" fill="#f80000"/>
<rect x="61.20" y="640.00" width="11.93" height="1.40" fill="#bd0000"/>
<rect x="61.20" y="641.00" width="11.93" height="1.40" fill="#ad0000"/>
<rect x="61.20" y="642.00" width="11.93" height="3.40" fill="#b00000"/>
<rect x="61.20" y="645.00" width="11.93" height="1.40" fill="#6d0000"/>
<rect x="61.20" y="646.00" width="11.93" height="2.90" fill="#690000"/>
<rect x="61.20" y="648.50" width="11.93" height="1.40" fill="#7f0000"/>
<rect x="61.20" y="649.50" width="11.93" height="3.40" fill="#6d0000"/>
<rect x="61.20" y="652.50" width="11.93" height="2.90" fill="#640000"/>
<rect x="61.20" y="655.00" width="11.93" height="1.90" fill="#a40000"/>
<rect x="61.20" y="656.50" width="11.93" height="2.90" fill="#c10000"/>
<rect x="61.20" y="659.00" width="11.93" height="1.40" fill="#b60000"/>
<rect x="61.20" y="660.00" width="11.93" height="1.40" fill="#ed0000"/>
<rect x="61.20" y="661.00" width="11.93" height="1.40" fill="#e10000"/>
<rect x="61.20" y="662.00" width="11.93" height="2.90" fill="#c40000"/>
<rect x="61.20" y="664.50" width="11.93" height="1.40" fill="#e20000"/>
<rect x="61.20" y="665.50" width="11.93" height="1.40" fill="#cf0000"/>
<rect x="61.20" y="666.50" width="11.93" height="1.40" fill="#cb0000"/>
<rect x="61.20" y="667.50" width="11.93" height="1.40" fill="#cb0000"/>
<rect x="61.20" y="668.50" width="11.93" height="1.60" fill="#dc0000"/>
<rect x="72.73" y="457.40" width="11.93" height="3.40" fill="#00c253"/>
<rect x="72.73" y="460.40" width="11.93" height="1.00" fill="#008439"/>
<rect x="72.73" y="461.00" width="11.93" height="1.40" fill="#9e8a9c"/>
<rect x="72.73" y="462.00" width="11.93" height="1.90" fill="#9e8a9c"/>
<rect x="72.73" y="463.50" width="11.93" height="1.40" fill="#00f569"/>
<rect x="72.73" y="464.50" width="11.93" height="3.40" fill="#00f569"/>
<rect x="72.73" y="467.50" width="11.93" height="2.30" fill="#00f569"/>
<rect x="72.73" y="469.40" width="11.93" height="2.40" fill="#00bb50"/>
<rect x="72.73" y="471.40" width="11.93" height="1.90" fill="#00c052"/>
<rect x="72.73" y="472.90" width="11.93" height="1.20" fill="#00943f"/>
<rect x="72.73" y="473.70" width="11.93" height="2.90" fill="#9e8a9c"/>
<rect x="72.73" y="476.20" width="11.93" height="1.20" fill="#9e8a9c"/>
<rect x="72.73" y="477.00" width="11.93" height="2.40" fill="#00e462"/>
<rect x="72.73" y="479.00" width="11.93" height="3.70" fill="#00ef67"/>
<rect x="72.73" y="482.30" width="11.93" height="1.40" fill="#9e8a9c"/>
<rect x="72.73" y="483.30" width="11.93" height="0.80" fill="#9e8a9c"/>
<rect x="72.73" y="483.70" width="11.93" height="1.90" fill="#00dc5e"/>
<rect x="72.73" y="485.20" width="11.93" height="3.90" fill="#00d65c"/>
<rect x="72.73" y="488.70" width="11.93" height="1.60" fill="#00f569"/>
<rect x="72.73" y="489.90" width="11.93" height="2.40" fill="#9e8a9c"/>
<rect x="72.73" y="491.90" width="11.93" height="0.80" fill="#9e8a9c"/>
<rect x="72.73" y="492.30" width="11.93" height="2.90" fill="#00e462"/>
<rect x="72.73" y="494.80" width="11.93" height="2.40" fill="#00d25a"/>
<rect x="72.73" y="496.80" width="11.93" height="0.70" fill="#00d85c"/>
<rect x="72.73" y="497.10" width="11.93" height="1.40" fill="#00e060"/>
<rect x="72.73" y="498.10" width="11.93" height="1.40" fill="#00dc5e"/>
<rect x="72.73" y="499.10" width="11.93" height="1.40" fill="#00e462"/>
<rect x="72.73" y="500.10" width="11.93" height="2.40" fill="#00f569"/>
<rect x="72.73" y="502.10" width="11.93" height="2.10" fill="#00f368"/>
<rect x="72.73" y="503.80" width="11.93" height="1.40" fill="#00ce58"/>
<rect x="72.73" y="504.80" width="11.93" height="2.40" fill="#00b44d"/>
<rect x="72.73" y="506.80" width="11.93" height="1.90" fill="#00cd58"/>
<rect x="72.73" y="508.30" width="11.93" height="2.90" fill="#00b24c"/>
<rect x="72.73" y="510.80" width="11.93" height="1.10" fill="#00b94f"/>
<rect x="72.73" y="511.50" width="11.93" height="2.30" fill="#9e8a9c"/>
<rect x="72.73" y="513.40" width="11.93" height="1.40" fill="#00a446"/>
<rect x="72.73" y="514.40" width="11.93" height="3.90" fill="#00943f"/>
<rect x="72.73" y="517.90" width="11.93" height="2.40" fill="#00b74e"/>
<rect x="72.73" y="519.90" width="11.93" height="1.20" fill="#00c253"/>
<rect x="72.73" y="520.70" width="11.93" height="1.90" fill="#00632a"/>
<rect x="72.73" y="522.20" width="11.93" height="1.40" fill="#006a2d"/>
<rect x="72.73" y="523.20" width="11.93" height="0.80" fill="#006e2f"/>
<rect x="72.73" y="523.60" width="11.93" height="2.90" fill="#00c052"/>
<rect x="72.73" y="526.10" width="11.93" height="1.70" fill="#00d85d"/>
<rect x="72.73" y="527.40" width="11.93" height="3.40" fill="#00da5e"/>
<rect x="72.73" y="530.40" width="11.93" height="2.90" fill="#00df5f"/>
<rect x="72.73" y="532.90" width="11.93" height="1.90" fill="#00b74e"/>
<rect x="72.73" y="534.40" width="11.93" height="2.40" fill="#00d75c"/>
<rect x="72.73" y="536.40" width="11.93" height="1.90" fill="#00dd5f"/>
<rect x="72.73" y="537.90" width="11.93" height="3.40" fill="#00f368"/>
<rect x="72.73" y="540.90" width="11.93" height="1.40" fill="#00f067"/>
<rect x="72.73" y="541.90" width="11.93" height="1.30" fill="#00ef67"/>
<rect x="72.73" y="542.80" width="11.93" height="3.40" fill="#00be51"/>
<rect x="72.73" y="545.80" width="11.93" height="1.20" fill="#00d75c"/>
<rect x="72.73" y="546.60" width="11.93" height="2.90" fill="#00b94f"/>
<rect x="72.73" y="549.10" width="11.93" height="1.40" fill="#00ca56"/>
<rect x="72.73" y="550.10" width="11.93" height="1.70" fill="#00bf52"/>
<rect x="72.73" y="551.40" width="11.93" height="3.90" fill="#00e261"/>
<rect x="72.73" y="554.90" width="11.93" height="1.40" fill="#00eb65"/>
<rect x="72.73" y="555.90" width="11.93" height="1.90" fill="#00d35b"/>
<rect x="72.73" y="557.40" width="11.93" height="1.90" fill="#00cf59"/>
<rect x="72.73" y="558.90" width="11.93" height="1.50" fill="#00dd5f"/>
<rect x="72.73" y="560.00" width="11.93" height="1.40" fill="#00ac4a"/>
<rect x="72.73" y="561.00" width="11.93" height="1.40" fill="#00b74e"/>
<rect x="72.73" y="562.00" width="11.93" height="1.20" fill="#00ab49"/>
<rect x="72.73" y="562.80" width="11.93" height="1.60" fill="#9e8a9c"/>
<rect x="72.73" y="564.00" width="11.93" height="3.10" fill="#00a245"/>
<rect x="72.73" y="566.70" width="11.93" height="1.50" fill="#9e8a9c"/>
<rect x="72.73" y="567.80" width="11.93" height="3.90" fill="#00a346"/>
<rect x="72.73" y="571.30" width="11.93" height="2.90" fill="#00ab49"/>
<rect x="72.73" y="573.80" width="11.93" height="1.90" fill="#9e8a9c"/>
<rect x="72.73" y="575.30" width="11.93" height="1.40" fill="#00a346"/>
<rect x="72.73" y="576.30" width="11.93" height="1.40" fill="#320000"/>
<rect x="72.73" y="577.30" width="11.93" height="1.10" fill="#270000"/>
<rect x="72.73" y="578.00" width="11.93" height="1.60" fill="#9e8a9c"/>
<rect x="72.73" y="579.20" width="11.93" height="1.20" fill="#00180a"/>
<rect x="72.73" y="580.00" width="11.93" height="1.90" fill="#000502"/>
<rect x="72.73" y="581.50" width="11.93" height="1.40" fill="#350000"/>
<rect x="72.73" y="582.50" width="11.93" height="1.90" fill="#1a0000"/>
<rect x="72.73" y="584.00" width="11.93" height="1.40" fill="#110000"/>
<rect x="72.73" y="585.00" width="11.93" height="1.40" fill="#210000"/>
<rect x="72.73" y="586.00" width="11.93" height="1.40" fill="#004d21"/>
<rect x="72.73" y="587.00" width="11.93" height="3.40" fill="#003f1b"/>
<rect x="72.73" y="590.00" width="11.93" height="2.40" fill="#1b0000"/>
<rect x="72.73" y="592.00" width="11.93" height="2.40" fill="#9e8a9c"/>
<rect x="72.73" y="594.00" width="11.93" height="1.90" fill="#a50000"/>
<rect x="72.73" y="595.50" width="11.93" height="1.40" fill="#c10000"/>
<rect x="72.73" y="596.50" width="11.93" height="1.90" fill="#a30000"/>
<rect x="72.73" y="598.00" width="11.93" height="1.40" fill="#ff0000"/>
<rect x="72.73" y="599.00" width="11.93" height="1.90" fill="#f10000"/>
<rect x="72.73" y="600.50" width="11.93" height="2.40" fill="#ff0000"/>
<rect x="72.73" y="602.50" width="11.93" height="1.40" fill="#ff0000"/>
<rect x="72.73" y="603.50" width="11.93" height="2.90" fill="#fc0000"/>
<rect x="72.73" y="606.00" width="11.93" height="2.90" fill="#fa0000"/>
<rect x="72.73" y="608.50" width="11.93" height="1.40" fill="#f80000"/>
<rect x="72.73" y="609.50" width="11.93" height="2.40" fill="#ff0000"/>
<rect x="72.73" y="611.50" width="11.93" height="0.90" fill="#ff0000"/>
<rect x="72.73" y="612.00" width="11.93" height="3.40" fill="#e50000"/>
<rect x="72.73" y="615.00" width="11.93" height="3.40" fill="#cc0000"/>
<rect x="72.73" y="618.00" width="11.93" height="1.90" fill="#2f0000"/>
<rect x="72.73" y="619.50" width="11.93" height="3.40" fill="#360000"/>
<rect x="72.73" y="622.50" width="11.93" height="2.90" fill="#3f0000"/>
<rect x="72.73" y="625.00" width="11.93" height="1.40" fill="#3e0000"/>
<rect x="72.73" y="626.00" width="11.93" height="3.90" fill="#190000"/>
<rect x="72.73" y="629.50" width="11.93" height="2.40" fill="#1f0000"/>
<rect x="72.73" y="631.50" width="11.93" height="1.90" fill="#1b0000"/>
<rect x="72.73" y="633.00" width="11.93" height="1.90" fill="#710000"/>
<rect x="72.73" y="634.50" width="11.93" height="2.40" fill="#7c0000"/>
<rect x="72.73" y="636.50" width="11.93" height="1.40" fill="#560000"/>
<rect x="72.73" y="637.50" width="11.93" height="2.90" fill="#730000"/>
<rect x="72.73" y="640.00" width="11.93" height="3.90" fill="#8e0000"/>
<rect x="72.73" y="643.50" width="11.93" height="2.40" fill="#930000"/>
<rect x="72.73" y="645.50" width="11.93" height="2.40" fill="#a50000"/>
<rect x="72.73" y="647.50" width="11.93" height="2.90" fill="#ba0000"/>
<rect x="72.73" y="650.00" width="11.93" height="2.40" fill="#3c0000"/>
<rect x="72.73" y="652.00" width="11.93" height="2.90" fill="#540000"/>
<rect x="72.73" y="654.50" width="11.93" height="1.40" fill="#370000"/>
<rect x="72.73" y="655.50" width="11.93" height="1.90" fill="#410000"/>
<rect x="72.73" y="657.00" width="11.93" height="3.40" fill="#3c0000"/>
<rect x="72.73" y="660.00" width="11.93" height="1.90" fill="#770000"/>
<rect x="72.73" y="661.50" width="11.93" height="3.40" fill="#740000"/>
<rect x="72.73" y="664.50" width="11.93" height="1.90" fill="#730000"/>
<rect x="72.73" y="666.00" width="11.93" height="1.40" fill="#830000"/>
<rect x="72.73" y="667.00" width="11.93" height="3.10" fill="#700000"/>
<rect x="84.27" y="457.40" width="11.93" height="3.40" fill="#007532"/>
<rect x="84.27" y="460.40" width="11.93" height="1.00" fill="#00411c"/>
<rect x="84.27" y="461.00" width="11.93" height="2.90" fill="#00f569"/>
<rect x="84.27" y="463.50" width="11.93" height="2.90" fill="#00a647"/>
<rect x="84.27" y="466.00" width="11.93" height="0.90" fill="#00b44d"/>
<rect x="84.27" y="466.50" width="11.93" height="2.40" fill="#00662c"/>
<rect x="84.27" y="468.50" width="11.93" height="1.30" fill="#005223"/>
<rect x="84.27" y="469.40" width="11.93" height="3.90" fill="#00bf52"/>
<rect x="84.27" y="472.90" width="11.93" height="2.40" fill="#009841"/>
<rect x="84.27" y="474.90" width="11.93" height="2.90" fill="#00cb57"/>
<rect x="84.27" y="477.40" width="11.93" height="1.00" fill="#00bb50"/>
<rect x="84.27" y="478.00" width="11.93" height="1.40" fill="#003a19"/>
<rect x="84.27" y="479.00" width="11.93" height="2.70" fill="#003c1a"/>
<rect x="84.27" y="481.30" width="11.93" height="2.90" fill="#009b42"/>
<rect x="84.27" y="483.80" width="11.93" height="3.40" fill="#00903e"/>
<rect x="84.27" y="486.80" width="11.93" height="2.40" fill="#008238"/>
<rect x="84.27" y="488.80" width="11.93" height="1.00" fill="#00883a"/>
<rect x="84.27" y="489.40" width="11.93" height="2.40" fill="#009c43"/>
<rect x="84.27" y="491.40" width="11.93" height="1.40" fill="#00a346"/>
<rect x="84.27" y="492.40" width="11.93" height="3.90" fill="#00b94f"/>
<rect x="84.27" y="495.90" width="11.93" height="1.60" fill="#00a748"/>
<rect x="84.27" y="497.10" width="11.93" height="1.40" fill="#00c755"/>
<rect x="84.27" y="498.10" width="11.93" height="2.40" fill="#00c052"/>
<rect x="84.27" y="500.10" width="11.93" height="3.90" fill="#00b04b"/>
<rect x="84.27" y="503.60" width="11.93" height="1.40" fill="#00bb50"/>
<rect x="84.27" y="504.60" width="11.93" height="2.40" fill="#00c153"/>
<rect x="84.27" y="506.60" width="11.93" height="1.40" fill="#00bc51"/>
<rect x="84.27" y="507.60" width="11.93" height="1.90" fill="#00c253"/>
<rect x="84.27" y="509.10" width="11.93" height="1.40" fill="#00a145"/>
<rect x="84.27" y="510.10" width="11.93" height="1.40" fill="#00ab49"/>
<rect x="84.27" y="511.10" width="11.93" height="2.40" fill="#00cf59"/>
<rect x="84.27" y="513.10" width="11.93" height="1.90" fill="#00be51"/>
<rect x="84.27" y="514.60" width="11.93" height="2.40" fill="#00a446"/>
<rect x="84.27" y="516.60" width="11.93" height="1.70" fill="#00ae4b"/>
<rect x="84.27" y="517.90" width="11.93" height="3.40" fill="#00b04b"/>
<rect x="84.27" y="520.90" width="11.93" height="1.40" fill="#00bd51"/>
<rect x="84.27" y="521.90" width="11.93" height="1.20" fill="#00c555"/>
<rect x="84.27" y="522.70" width="11.93" height="1.90" fill="#004f22"/>
<rect x="84.27" y="524.20" width="11.93" height="3.40" fill="#00682c"/>
<rect x="84.27" y="527.20" width="11.93" height="2.40" fill="#00c655"/>
<rect x="84.27" y="529.20" width="11.93" height="3.90" fill="#009f44"/>
<rect x="84.27" y="532.70" width="11.93" height="1.40" fill="#00a446"/>
<rect x="84.27" y="533.70" width="11.93" height="1.90" fill="#00bf52"/>
<rect x="84.27" y="535.20" width="11.93" height="3.90" fill="#00a848"/>
<rect x="84.27" y="538.70" width="11.93" height="1.40" fill="#006b2e"/>
<rect x="84.27" y="539.70" width="11.93" height="2.40" fill="#004b20"/>
<rect x="84.27" y="541.70" width="11.93" height="1.00" fill="#005c27"/>
<rect x="84.27" y="542.30" width="11.93" height="3.90" fill="#009c43"/>
<rect x="84.27" y="545.80" width="11.93" height="2.40" fill="#00b64e"/>
<rect x="84.27" y="547.80" width="11.93" height="3.90" fill="#00ac4a"/>
<rect x="84.27" y="551.30" width="11.93" height="2.40" fill="#009941"/>
<rect x="84.27" y="553.30" width="11.93" height="1.90" fill="#00b74f"/>
<rect x="84.27" y="554.80" width="11.93" height="1.40" fill="#00af4b"/>
<rect x="84.27" y="555.80" width="11.93" height="1.40" fill="#00a547"/>
<rect x="84.27" y="556.80" width="11.93" height="1.40" fill="#00aa49"/>
<rect x="84.27" y="557.80" width="11.93" height="2.40" fill="#008b3b"/>
<rect x="84.27" y="559.80" width="11.93" height="3.40" fill="#006b2e"/>
<rect x="84.27" y="562.80" width="11.93" height="2.90" fill="#00ab49"/>
<rect x="84.27" y="565.30" width="11.93" height="1.90" fill="#00b74e"/>
<rect x="84.27" y="566.80" width="11.93" height="2.90" fill="#009a42"/>
<rect x="84.27" y="569.30" width="11.93" height="1.90" fill="#00ca57"/>
<rect x="84.27" y="570.80" width="11.93" height="3.00" fill="#00a547"/>
<rect x="84.27" y="573.40" width="11.93" height="2.40" fill="#00f569"/>
<rect x="84.27" y="575.40" width="11.93" height="1.30" fill="#00f569"/>
<rect x="84.27" y="576.30" width="11.93" height="3.90" fill="#df0000"/>
<rect x="84.27" y="579.80" width="11.93" height="3.90" fill="#a10000"/>
<rect x="84.27" y="583.30" width="11.93" height="2.10" fill="#a50000"/>
<rect x="84.27" y="585.00" width="11.93" height="1.90" fill="#590000"/>
<rect x="84.27" y="586.50" width="11.93" height="2.40" fill="#670000"/>
<rect x="84.27" y="588.50" width="11.93" height="1.90" fill="#6e0000"/>
<rect x="84.27" y="590.00" width="11.93" height="1.40" fill="#190000"/>
<rect x="84.27" y="591.00" width="11.93" height="1.40" fill="#170000"/>
<rect x="84.27" y="592.00" width="11.93" height="1.40" fill="#120000"/>
<rect x="84.27" y="593.00" width="11.93" height="2.40" fill="#1d0000"/>
<rect x="84.27" y="595.00" width="11.93" height="2.40" fill="#090000"/>
<rect x="84.27" y="597.00" width="11.93" height="2.40" fill="#120000"/>
<rect x="84.27" y="599.00" width="11.93" height="1.40" fill="#100000"/>
<rect x="84.27" y="600.00" width="11.93" height="1.90" fill="#6d0000"/>
<rect x="84.27" y="601.50" width="11.93" height="2.40" fill="#600000"/>
<rect x="84.27" y="603.50" width="11.93" height="1.40" fill="#640000"/>
<rect x="84.27" y="604.50" width="11.93" height="2.40" fill="#810000"/>
<rect x="84.27" y="606.50" width="11.93" height="1.90" fill="#840000"/>
<rect x="84.27" y="608.00" width="11.93" height="2.40" fill="#310000"/>
<rect x="84.27" y="610.00" width="11.93" height="1.40" fill="#410000"/>
<rect x="84.27" y="611.00" width="11.93" height="2.90" fill="#300000"/>
<rect x="84.27" y="613.50" width="11.93" height="2.90" fill="#350000"/>
<rect x="84.27" y="616.00" width="11.93" height="2.40" fill="#9e8a9c"/>
<rect x="84.27" y="618.00" width="11.93" height="2.90" fill="#a30000"/>
<rect x="84.27" y="620.50" width="11.93" height="2.40" fill="#a00000"/>
<rect x="84.27" y="622.50" width="11.93" height="1.40" fill="#ae0000"/>
<rect x="84.27" y="623.50" width="11.93" height="1.90" fill="#c10000"/>
<rect x="84.27" y="625.00" width="11.93" height="2.40" fill="#7c0000"/>
<rect x="84.27" y="627.00" width="11.93" height="1.40" fill="#7c0000"/>
<rect x="84.27" y="628.00" width="11.93" height="2.40" fill="#900000"/>
<rect x="84.27" y="630.00" width="11.93" height="3.90" fill="#820000"/>
<rect x="84.27" y="633.50" width="11.93" height="1.40" fill="#680000"/>
<rect x="84.27" y="634.50" width="11.93" height="1.40" fill="#6e0000"/>
<rect x="84.27" y="635.50" width="11.93" height="2.40" fill="#800000"/>
<rect x="84.27" y="637.50" width="11.93" height="2.90" fill="#7b0000"/>
<rect x="84.27" y="640.00" width="11.93" height="2.40" fill="#a60000"/>
<rect x="84.27" y="642.00" width="11.93" height="2.40" fill="#b10000"/>
<rect x="84.27" y="644.00" width="11.93" height="1.40" fill="#930000"/>
<rect x="84.27" y="645.00" width="11.93" height="3.90" fill="#910000"/>
<rect x="84.27" y="648.50" width="11.93" height="1.90" fill="#ad0000"/>
<rect x="84.27" y="650.00" width="11.93" height="2.40" fill="#d00000"/>
<rect x="84.27" y="652.00" width="11.93" height="1.90" fill="#f70000"/>
<rect x="84.27" y="653.50" width="11.93" height="2.40" fill="#ef0000"/>
<rect x="84.27" y="655.50" width="11.93" height="3.90" fill="#f10000"/>
<rect x="84.27" y="659.00" width="11.93" height="1.40" fill="#d90000"/>
<rect x="84.27" y="660.00" width="11.93" height="1.40" fill="#a90000"/>
<rect x="84.27" y="661.00" width="11.93" height="3.90" fill="#c40000"/>
<rect x="84.27" y="664.50" width="11.93" height="3.40" fill="#c20000"/>
<rect x="84.27" y="667.50" width="11.93" height="2.60" fill="#db0000"/>
<rect x="95.80" y="457.40" width="11.93" height="2.90" fill="#c60000"/>
<rect x="95.80" y="459.90" width="11.93" height="1.90" fill="#350000"/>
<rect x="95.80" y="461.40" width="11.93" height="1.40" fill="#340000"/>
<rect x="95.80" y="462.40" width="11.93" height="2.40" fill="#00220e"/>
<rect x="95.80" y="464.40" width="11.93" height="1.10" fill="#001f0d"/>
<rect x="95.80" y="465.10" width="11.93" height="3.40" fill="#ff0000"/>
<rect x="95.80" y="468.10" width="11.93" height="1.90" fill="#f80000"/>
<rect x="95.80" y="469.60" width="11.93" height="2.40" fill="#ff0000"/>
<rect x="95.80" y="471.60" width="11.93" height="3.40" fill="#ff0000"/>
<rect x="95.80" y="474.60" width="11.93" height="2.90" fill="#ff0000"/>
<rect x="95.80" y="477.10" width="11.93" height="2.40" fill="#e50000"/>
<rect x="95.80" y="479.10" width="11.93" height="1.90" fill="#cb0000"/>
<rect x="95.80" y="480.60" width="11.93" height="2.40" fill="#c50000"/>
<rect x="95.80" y="482.60" width="11.93" height="1.40" fill="#6d0000"/>
<rect x="95.80" y="483.60" width="11.93" height="3.40" fill="#810000"/>
<rect x="95.80" y="486.60" width="11.93" height="1.00" fill="#870000"/>
<rect x="95.80" y="487.20" width="11.93" height="1.40" fill="#2f0000"/>
<rect x="95.80" y="488.20" width="11.93" height="1.40" fill="#2e0000"/>
<rect x="95.80" y="489.20" width="11.93" height="1.40" fill="#2d0000"/>
<rect x="95.80" y="490.20" width="11.93" height="2.40" fill="#2c0000"/>
<rect x="95.80" y="492.20" width="11.93" height="2.90" fill="#1f0000"/>
<rect x="95.80" y="494.70" width="11.93" height="0.70" fill="#510000"/>
<rect x="95.80" y="495.00" width="11.93" height="3.40" fill="#540000"/>
<rect x="95.80" y="498.00" width="11.93" height="1.40" fill="#220000"/>
<rect x="95.80" y="499.00" width="11.93" height="2.40" fill="#3c0000"/>
<rect x="95.80" y="501.00" width="11.93" height="2.40" fill="#290000"/>
<rect x="95.80" y="503.00" width="11.93" height="1.40" fill="#800000"/>
<rect x="95.80" y="504.00" width="11.93" height="3.90" fill="#9c0000"/>
<rect x="95.80" y="507.50" width="11.93" height="1.40" fill="#850000"/>
<rect x="95.80" y="508.50" width="11.93" height="2.10" fill="#ae0000"/>
<rect x="95.80" y="510.20" width="11.93" height="1.90" fill="#f50000"/>
<rect x="95.80" y="511.70" width="11.93" height="2.40" fill="#d80000"/>
<rect x="95.80" y="513.70" width="11.93" height="2.50" fill="#eb0000"/>
<rect x="95.80" y="515.80" width="11.93" height="1.40" fill="#b50000"/>
<rect x="95.80" y="516.80" width="11.93" height="1.40" fill="#970000"/>
<rect x="95.80" y="517.80" width="11.93" height="1.90" fill="#b10000"/>
<rect x="95.80" y="519.30" width="11.93" height="1.90" fill="#ab0000"/>
<rect x="95.80" y="520.80" width="11.93" height="0.90" fill="#bf0000"/>
<rect x="95.80" y="521.30" width="11.93" height="2.40" fill="#a10000"/>
<rect x="95.80" y="523.30" width="11.93" height="1.40" fill="#9a0000"/>
<rect x="95.80" y="524.30" width="11.93" height="2.40" fill="#a00000"/>
<rect x="95.80" y="526.30" width="11.93" height="2.40" fill="#a60000"/>
<rect x="95.80" y="528.30" width="11.93" height="1.90" fill="#8e0000"/>
<rect x="95.80" y="529.80" width="11.93" height="2.90" fill="#9d0000"/>
<rect x="95.80" y="532.30" width="11.93" height="2.90" fill="#820000"/>
<rect x="95.80" y="534.80" width="11.93" height="1.40" fill="#a70000"/>
<rect x="95.80" y="535.80" width="11.93" height="3.40" fill="#880000"/>
<rect x="95.80" y="538.80" width="11.93" height="1.30" fill="#a30000"/>
<rect x="95.80" y="539.70" width="11.93" height="1.40" fill="#430000"/>
<rect x="95.80" y="540.70" width="11.93" height="1.40" fill="#320000"/>
<rect x="95.80" y="541.70" width="11.93" height="3.70" fill="#500000"/>
<rect x="95.80" y="545.00" width="11.93" height="2.40" fill="#4a0000"/>
<rect x="95.80" y="547.00" width="11.93" height="1.90" fill="#570000"/>
<rect x="95.80" y="548.50" width="11.93" height="1.90" fill="#650000"/>
<rect x="95.80" y="550.00" width="11.93" height="1.20" fill="#660000"/>
<rect x="95.80" y="550.80" width="11.93" height="1.40" fill="#860000"/>
<rect x="95.80" y="551.80" width="11.93" height="2.90" fill="#870000"/>
<rect x="95.80" y="554.30" width="11.93" height="2.40" fill="#850000"/>
<rect x="95.80" y="556.30" width="11.93" height="1.40" fill="#790000"/>
<rect x="95.80" y="557.30" width="11.93" height="2.40" fill="#8a0000"/>
<rect x="95.80" y="559.30" width="11.93" height="1.40" fill="#7a0000"/>
<rect x="95.80" y="560.30" width="11.93" height="1.40" fill="#a00000"/>
<rect x="95.80" y="561.30" width="11.93" height="0.90" fill="#7b0000"/>
<rect x="95.80" y="561.80" width="11.93" height="3.40" fill="#4b0000"/>
<rect x="95.80" y="564.80" width="11.93" height="2.60" fill="#5a0000"/>
<rect x="95.80" y="567.00" width="11.93" height="2.90" fill="#850000"/>
<rect x="95.80" y="569.50" width="11.93" height="3.40" fill="#aa0000"/>
<rect x="95.80" y="572.50" width="11.93" height="0.90" fill="#8d0000"/>
<rect x="95.80" y="573.00" width="11.93" height="1.90" fill="#4e0000"/>
<rect x="95.80" y="574.50" width="11.93" height="2.20" fill="#540000"/>
<rect x="95.80" y="576.30" width="11.93" height="1.30" fill="#3e0000"/>
<rect x="95.80" y="577.20" width="11.93" height="2.40" fill="#008a3b"/>
<rect x="95.80" y="579.20" width="11.93" height="3.40" fill="#00a949"/>
<rect x="95.80" y="582.20" width="11.93" height="1.40" fill="#00a145"/>
<rect x="95.80" y="583.20" width="11.93" height="3.40" fill="#00a346"/>
<rect x="95.80" y="586.20" width="11.93" height="1.90" fill="#00de5f"/>
<rect x="95.80" y="587.70" width="11.93" height="3.40" fill="#000d06"/>
<rect x="95.80" y="590.70" width="11.93" height="1.40" fill="#001208"/>
<rect x="95.80" y="591.70" width="11.93" height="1.40" fill="#003818"/>
<rect x="95.80" y="592.70" width="11.93" height="3.90" fill="#007a34"/>
<rect x="95.80" y="596.20" width="11.93" height="3.40" fill="#005725"/>
<rect x="95.80" y="599.20" width="11.93" height="3.90" fill="#009741"/>
<rect x="95.80" y="602.70" width="11.93" height="3.90" fill="#009c43"/>
<rect x="95.80" y="606.20" width="11.93" height="2.40" fill="#00903e"/>
<rect x="95.80" y="608.20" width="11.93" height="2.40" fill="#9e8a9c"/>
<rect x="95.80" y="610.20" width="11.93" height="2.90" fill="#004c21"/>
<rect x="95.80" y="612.70" width="11.93" height="3.40" fill="#00471e"/>
<rect x="95.80" y="615.70" width="11.93" height="1.40" fill="#00622a"/>
<rect x="95.80" y="616.70" width="11.93" height="1.40" fill="#00c153"/>
<rect x="95.80" y="617.70" width="11.93" height="2.40" fill="#00632a"/>
<rect x="95.80" y="619.70" width="11.93" height="2.90" fill="#006e2f"/>
<rect x="95.80" y="622.20" width="11.93" height="1.40" fill="#008b3c"/>
<rect x="95.80" y="623.20" width="11.93" height="1.90" fill="#00933f"/>
<rect x="95.80" y="624.70" width="11.93" height="2.90" fill="#00b64e"/>
<rect x="95.80" y="627.20" width="11.93" height="2.40" fill="#007a34"/>
<rect x="95.80" y="629.20" width="11.93" height="3.40" fill="#009942"/>
<rect x="95.80" y="632.20" width="11.93" height="1.40" fill="#007632"/>
<rect x="95.80" y="633.20" width="11.93" height="1.40" fill="#004b20"/>
<rect x="95.80" y="634.20" width="11.93" height="2.40" fill="#008137"/>
<rect x="95.80" y="636.20" width="11.93" height="2.40" fill="#00c655"/>
<rect x="95.80" y="638.20" width="11.93" height="1.40" fill="#007f37"/>
<rect x="95.80" y="639.20" width="11.93" height="1.40" fill="#00240f"/>
<rect x="95.80" y="640.20" width="11.93" height="2.40" fill="#003014"/>
<rect x="95.80" y="642.20" width="11.93" height="3.90" fill="#002f14"/>
<rect x="95.80" y="645.70" width="11.93" height="1.40" fill="#003d1a"/>
<rect x="95.80" y="646.70" width="11.93" height="2.90" fill="#000000"/>
<rect x="95.80" y="649.20" width="11.93" height="2.90" fill="#009540"/>
<rect x="95.80" y="651.70" width="11.93" height="1.40" fill="#007833"/>
<rect x="95.80" y="652.70" width="11.93" height="1.40" fill="#008b3b"/>
<rect x="95.80" y="653.70" width="11.93" height="2.40" fill="#007030"/>
<rect x="95.80" y="655.70" width="11.93" height="2.40" fill="#006f30"/>
<rect x="95.80" y="657.70" width="11.93" height="2.40" fill="#007a34"/>
<rect x="95.80" y="659.70" width="11.93" height="2.40" fill="#005524"/>
<rect x="95.80" y="661.70" width="11.93" height="1.90" fill="#00a145"/>
<rect x="95.80" y="663.20" width="11.93" height="1.40" fill="#00893b"/>
<rect x="95.80" y="664.20" width="11.93" height="1.90" fill="#005d28"/>
<rect x="95.80" y="665.70" width="11.93" height="1.40" fill="#005525"/>
<rect x="95.80" y="666.70" width="11.93" height="1.40" fill="#007231"/>
<rect x="95.80" y="667.70" width="11.93" height="2.40" fill="#003919"/>
<rect x="107.33" y="457.40" width="11.93" height="1.40" fill="#8c0000"/>
<rect x="107.33" y="458.40" width="11.93" height="1.40" fill="#8a0000"/>
<rect x="107.33" y="459.40" width="11.93" height="1.40" fill="#750000"/>
<rect x="107.33" y="460.40" width="11.93" height="2.40" fill="#680000"/>
<rect x="107.33" y="462.40" width="11.93" height="1.40" fill="#003c1a"/>
<rect x="107.33" y="463.40" width="11.93" height="2.00" fill="#003d1a"/>
<rect x="107.33" y="465.00" width="11.93" height="3.40" fill="#350000"/>
<rect x="107.33" y="468.00" width="11.93" height="1.40" fill="#390000"/>
<rect x="107.33" y="469.00" width="11.93" height="3.40" fill="#230000"/>
<rect x="107.33" y="472.00" width="11.93" height="1.40" fill="#003b19"/>
<rect x="107.33" y="473.00" width="11.93" height="2.40" fill="#003919"/>
<rect x="107.33" y="475.00" width="11.93" height="1.40" fill="#00220f"/>
<rect x="107.33" y="476.00" width="11.93" height="2.90" fill="#1f0000"/>
<rect x="107.33" y="478.50" width="11.93" height="2.90" fill="#1a0000"/>
<rect x="107.33" y="481.00" width="11.93" height="1.40" fill="#330000"/>
<rect x="107.33" y="482.00" width="11.93" height="2.90" fill="#250000"/>
<rect x="107.33" y="484.50" width="11.93" height="2.40" fill="#010000"/>
<rect x="107.33" y="486.50" width="11.93" height="2.90" fill="#2a0000"/>
<rect x="107.33" y="489.00" width="11.93" height="1.40" fill="#2a0000"/>
<rect x="107.33" y="490.00" width="11.93" height="1.40" fill="#740000"/>
<rect x="107.33" y="491.00" width="11.93" height="2.40" fill="#630000"/>
<rect x="107.33" y="493.00" width="11.93" height="1.40" fill="#4f0000"/>
<rect x="107.33" y="494.00" width="11.93" height="1.40" fill="#4a0000"/>
<rect x="107.33" y="495.00" width="11.93" height="1.40" fill="#4a0000"/>
<rect x="107.33" y="496.00" width="11.93" height="1.40" fill="#600000"/>
<rect x="107.33" y="497.00" width="11.93" height="1.90" fill="#660000"/>
<rect x="107.33" y="498.50" width="11.93" height="1.40" fill="#650000"/>
<rect x="107.33" y="499.50" width="11.93" height="1.40" fill="#560000"/>
<rect x="107.33" y="500.50" width="11.93" height="1.40" fill="#4b0000"/>
<rect x="107.33" y="501.50" width="11.93" height="1.40" fill="#550000"/>
<rect x="107.33" y="502.50" width="11.93" height="1.90" fill="#530000"/>
<rect x="107.33" y="504.00" width="11.93" height="1.40" fill="#6c0000"/>
<rect x="107.33" y="505.00" width="11.93" height="2.40" fill="#1d0000"/>
<rect x="107.33" y="507.00" width="11.93" height="3.40" fill="#3b0000"/>
<rect x="107.33" y="510.00" width="11.93" height="1.90" fill="#2f0000"/>
<rect x="107.33" y="511.50" width="11.93" height="1.90" fill="#300000"/>
<rect x="107.33" y="513.00" width="11.93" height="3.40" fill="#420000"/>
<rect x="107.33" y="516.00" width="11.93" height="1.90" fill="#410000"/>
<rect x="107.33" y="517.50" width="11.93" height="2.90" fill="#480000"/>
<rect x="107.33" y="520.00" width="11.93" height="1.40" fill="#740000"/>
<rect x="107.33" y="521.00" width="11.93" height="3.40" fill="#790000"/>
<rect x="107.33" y="524.00" width="11.93" height="1.40" fill="#5f0000"/>
<rect x="107.33" y="525.00" width="11.93" height="3.90" fill="#730000"/>
<rect x="107.33" y="528.50" width="11.93" height="1.40" fill="#5e0000"/>
<rect x="107.33" y="529.50" width="11.93" height="2.90" fill="#660000"/>
<rect x="107.33" y="532.00" width="11.93" height="1.90" fill="#7b0000"/>
<rect x="107.33" y="533.50" width="11.93" height="2.40" fill="#7d0000"/>
<rect x="107.33" y="535.50" width="11.93" height="2.40" fill="#5b0000"/>
<rect x="107.33" y="537.50" width="11.93" height="1.90" fill="#5a0000"/>
<rect x="107.33" y="539.00" width="11.93" height="2.90" fill="#600000"/>
<rect x="107.33" y="541.50" width="11.93" height="2.40" fill="#5c0000"/>
<rect x="107.33" y="543.50" width="11.93" height="1.40" fill="#710000"/>
<rect x="107.33" y="544.50" width="11.93" height="0.90" fill="#630000"/>
<rect x="107.33" y="545.00" width="11.93" height="2.40" fill="#8d0000"/>
<rect x="107.33" y="547.00" width="11.93" height="2.40" fill="#890000"/>
<rect x="107.33" y="549.00" width="11.93" height="1.90" fill="#800000"/>
<rect x="107.33" y="550.50" width="11.93" height="2.40" fill="#9b0000"/>
<rect x="107.33" y="552.50" width="11.93" height="2.40" fill="#8f0000"/>
<rect x="107.33" y="554.50" width="11.93" height="2.40" fill="#860000"/>
<rect x="107.33" y="556.50" width="11.93" height="2.90" fill="#880000"/>
<rect x="107.33" y="559.00" width="11.93" height="1.40" fill="#8d0000"/>
<rect x="107.33" y="560.00" width="11.93" height="1.40" fill="#680000"/>
<rect x="107.33" y="561.00" width="11.93" height="1.90" fill="#630000"/>
<rect x="107.33" y="562.50" width="11.93" height="1.40" fill="#5e0000"/>
<rect x="107.33" y="563.50" width="11.93" height="1.40" fill="#630000"/>
<rect x="107.33" y="564.50" width="11.93" height="2.90" fill="#430000"/>
<rect x="107.33" y="567.00" width="11.93" height="1.40" fill="#630000"/>
<rect x="107.33" y="568.00" width="11.93" height="3.90" fill="#610000"/>
<rect x="107.33" y="571.50" width="11.93" height="1.40" fill="#640000"/>
<rect x="107.33" y="572.50" width="11.93" height="2.40" fill="#4a0000"/>
<rect x="107.33" y="574.50" width="11.93" height="1.90" fill="#3e0000"/>
<rect x="107.33" y="576.00" width="11.93" height="0.70" fill="#290000"/>
<rect x="107.33" y="576.30" width="11.93" height="1.30" fill="#570000"/>
<rect x="107.33" y="577.20" width="11.93" height="1.40" fill="#00cd58"/>
<rect x="107.33" y="578.20" width="11.93" height="1.40" fill="#00cf59"/>
<rect x="107.33" y="579.20" width="11.93" height="1.90" fill="#00cb57"/>
<rect x="107.33" y="580.70" width="11.93" height="1.40" fill="#9e8a9c"/>
<rect x="107.33" y="581.70" width="11.93" height="1.40" fill="#00cc57"/>
<rect x="107.33" y="582.70" width="11.93" height="2.40" fill="#00e160"/>
<rect x="107.33" y="584.70" width="11.93" height="2.90" fill="#00672c"/>
<rect x="107.33" y="587.20" width="11.93" height="2.40" fill="#004a20"/>
<rect x="107.33" y="589.20" width="11.93" height="2.90" fill="#008f3d"/>
<rect x="107.33" y="591.70" width="11.93" height="3.90" fill="#007432"/>
<rect x="107.33" y="595.20" width="11.93" height="3.40" fill="#00652b"/>
<rect x="107.33" y="598.20" width="11.93" height="3.90" fill="#005c27"/>
<rect x="107.33" y="601.70" width="11.93" height="2.90" fill="#005826"/>
<rect x="107.33" y="604.20" width="11.93" height="2.40" fill="#003b19"/>
<rect x="107.33" y="606.20" width="11.93" height="1.40" fill="#00642b"/>
<rect x="107.33" y="607.20" width="11.93" height="2.90" fill="#005625"/>
<rect x="107.33" y="609.70" width="11.93" height="2.40" fill="#008c3c"/>
<rect x="107.33" y="611.70" width="11.93" height="1.40" fill="#00a848"/>
<rect x="107.33" y="612.70" width="11.93" height="2.40" fill="#007934"/>
<rect x="107.33" y="614.70" width="11.93" height="1.90" fill="#006a2e"/>
<rect x="107.33" y="616.20" width="11.93" height="2.90" fill="#00612a"/>
<rect x="107.33" y="618.70" width="11.93" height="1.90" fill="#00682d"/>
<rect x="107.33" y="620.20" width="11.93" height="2.40" fill="#00903e"/>
<rect x="107.33" y="622.20" width="11.93" height="2.40" fill="#003718"/>
<rect x="107.33" y="624.20" width="11.93" height="1.40" fill="#9e8a9c"/>
<rect x="107.33" y="625.20" width="11.93" height="3.90" fill="#00642b"/>
<rect x="107.33" y="628.70" width="11.93" height="1.40" fill="#008137"/>
<rect x="107.33" y="629.70" width="11.93" height="1.90" fill="#00642b"/>
<rect x="107.33" y="631.20" width="11.93" height="2.40" fill="#005022"/>
<rect x="107.33" y="633.20" width="11.93" height="1.90" fill="#007c35"/>
<rect x="107.33" y="634.70" width="11.93" height="2.90" fill="#005826"/>
<rect x="107.33" y="637.20" width="11.93" height="2.40" fill="#007633"/>
<rect x="107.33" y="639.20" width="11.93" height="3.90" fill="#009640"/>
<rect x="107.33" y="642.70" width="11.93" height="1.90" fill="#00421c"/>
<rect x="107.33" y="644.20" width="11.93" height="1.40" fill="#003316"/>
<rect x="107.33" y="645.20" width="11.93" height="1.40" fill="#007432"/>
<rect x="107.33" y="646.20" width="11.93" height="1.90" fill="#00883a"/>
<rect x="107.33" y="647.70" width="11.93" height="3.90" fill="#007d35"/>
<rect x="107.33" y="651.20" width="11.93" height="2.40" fill="#006029"/>
<rect x="107.33" y="653.20" width="11.93" height="1.40" fill="#007331"/>
<rect x="107.33" y="654.20" width="11.93" height="1.90" fill="#005d28"/>
<rect x="107.33" y="655.70" width="11.93" height="2.40" fill="#005223"/>
<rect x="107.33" y="657.70" width="11.93" height="3.90" fill="#00b94f"/>
<rect x="107.33" y="661.20" width="11.93" height="1.40" fill="#000803"/>
<rect x="107.33" y="662.20" width="11.93" height="3.90" fill="#00662c"/>
<rect x="107.33" y="665.70" width="11.93" height="3.40" fill="#006f30"/>
<rect x="107.33" y="668.70" width="11.93" height="1.40" fill="#00622a"/>
<rect x="118.87" y="457.40" width="11.93" height="2.40" fill="#a60000"/>
<rect x="118.87" y="459.40" width="11.93" height="3.00" fill="#990000"/>
<rect x="118.87" y="462.00" width="11.93" height="2.90" fill="#6d0000"/>
<rect x="118.87" y="464.50" width="11.93" height="2.40" fill="#580000"/>
<rect x="118.87" y="466.50" width="11.93" height="2.40" fill="#680000"/>
<rect x="118.87" y="468.50" width="11.93" height="1.90" fill="#640000"/>
<rect x="118.87" y="470.00" width="11.93" height="3.90" fill="#300000"/>
<rect x="118.87" y="473.50" width="11.93" height="0.90" fill="#000b05"/>
<rect x="118.87" y="474.00" width="11.93" height="1.90" fill="#002c13"/>
<rect x="118.87" y="475.50" width="11.93" height="3.40" fill="#00190b"/>
<rect x="118.87" y="478.50" width="11.93" height="1.40" fill="#001409"/>
<rect x="118.87" y="479.50" width="11.93" height="0.90" fill="#001509"/>
<rect x="118.87" y="480.00" width="11.93" height="3.40" fill="#520000"/>
<rect x="118.87" y="483.00" width="11.93" height="3.90" fill="#4e0000"/>
<rect x="118.87" y="486.50" width="11.93" height="1.40" fill="#560000"/>
<rect x="118.87" y="487.50" width="11.93" height="1.90" fill="#570000"/>
<rect x="118.87" y="489.00" width="11.93" height="1.40" fill="#6d0000"/>
<rect x="118.87" y="490.00" width="11.93" height="3.40" fill="#590000"/>
<rect x="118.87" y="493.00" width="11.93" height="1.40" fill="#370000"/>
<rect x="118.87" y="494.00" width="11.93" height="3.90" fill="#620000"/>
<rect x="118.87" y="497.50" width="11.93" height="2.90" fill="#4c0000"/>
<rect x="118.87" y="500.00" width="11.93" height="3.90" fill="#900000"/>
<rect x="118.87" y="503.50" width="11.93" height="2.40" fill="#670000"/>
<rect x="118.87" y="505.50" width="11.93" height="1.90" fill="#560000"/>
<rect x="118.87" y="507.00" width="11.93" height="1.40" fill="#800000"/>
<rect x="118.87" y="508.00" width="11.93" height="2.40" fill="#600000"/>
<rect x="118.87" y="510.00" width="11.93" height="3.40" fill="#c50000"/>
<rect x="118.87" y="513.00" width="11.93" height="1.90" fill="#e70000"/>
<rect x="118.87" y="514.50" width="11.93" height="2.40" fill="#b40000"/>
<rect x="118.87" y="516.50" width="11.93" height="1.90" fill="#c20000"/>
<rect x="118.87" y="518.00" width="11.93" height="1.40" fill="#7f0000"/>
<rect x="118.87" y="519.00" width="11.93" height="1.40" fill="#a00000"/>
<rect x="118.87" y="520.00" width="11.93" height="3.90" fill="#8b0000"/>
<rect x="118.87" y="523.50" width="11.93" height="1.90" fill="#970000"/>
<rect x="118.87" y="525.00" width="11.93" height="1.40" fill="#7f0000"/>
<rect x="118.87" y="526.00" width="11.93" height="2.40" fill="#980000"/>
<rect x="118.87" y="528.00" width="11.93" height="1.40" fill="#780000"/>
<rect x="118.87" y="529.00" width="11.93" height="2.40" fill="#4f0000"/>
<rect x="118.87" y="531.00" width="11.93" height="3.90" fill="#540000"/>
<rect x="118.87" y="534.50" width="11.93" height="3.90" fill="#6e0000"/>
<rect x="118.87" y="538.00" width="11.93" height="1.40" fill="#5a0000"/>
<rect x="118.87" y="539.00" width="11.93" height="1.40" fill="#4f0000"/>
<rect x="118.87" y="540.00" width="11.93" height="3.40" fill="#4a0000"/>
<rect x="118.87" y="543.00" width="11.93" height="1.40" fill="#540000"/>
<rect x="118.87" y="544.00" width="11.93" height="1.40" fill="#003918"/>
<rect x="118.87" y="545.00" width="11.93" height="2.40" fill="#002711"/>
<rect x="118.87" y="547.00" width="11.93" height="1.40" fill="#002410"/>
<rect x="118.87" y="548.00" width="11.93" height="1.90" fill="#600000"/>
<rect x="118.87" y="549.50" width="11.93" height="2.90" fill="#470000"/>
<rect x="118.87" y="552.00" width="11.93" height="1.40" fill="#3f0000"/>
<rect x="118.87" y="553.00" width="11.93" height="3.90" fill="#450000"/>
<rect x="118.87" y="556.50" width="11.93" height="1.40" fill="#310000"/>
<rect x="118.87" y="557.50" width="11.93" height="1.90" fill="#2b0000"/>
<rect x="118.87" y="559.00" width="11.93" height="1.40" fill="#380000"/>
<rect x="118.87" y="560.00" width="11.93" height="3.40" fill="#6c0000"/>
<rect x="118.87" y="563.00" width="11.93" height="1.40" fill="#620000"/>
<rect x="118.87" y="564.00" width="11.93" height="3.40" fill="#660000"/>
<rect x="118.87" y="567.00" width="11.93" height="2.40" fill="#5a0000"/>
<rect x="118.87" y="569.00" width="11.93" height="2.90" fill="#650000"/>
<rect x="118.87" y="571.50" width="11.93" height="1.40" fill="#7a0000"/>
<rect x="118.87" y="572.50" width="11.93" height="3.40" fill="#750000"/>
<rect x="118.87" y="575.50" width="11.93" height="1.20" fill="#6a0000"/>
<rect x="118.87" y="576.30" width="11.93" height="1.30" fill="#730000"/>
<rect x="118.87" y="577.20" width="11.93" height="2.40" fill="#00491f"/>
<rect x="118.87" y="579.20" width="11.93" height="3.40" fill="#004b20"/>
<rect x="118.87" y="582.20" width="11.93" height="3.90" fill="#00933f"/>
<rect x="118.87" y="585.70" width="11.93" height="3.90" fill="#008c3c"/>
<rect x="118.87" y="589.20" width="11.93" height="3.40" fill="#009d43"/>
<rect x="118.87" y="592.20" width="11.93" height="1.40" fill="#007030"/>
<rect x="118.87" y="593.20" width="11.93" height="3.90" fill="#008d3c"/>
<rect x="118.87" y="596.70" width="11.93" height="2.40" fill="#00652b"/>
<rect x="118.87" y="598.70" width="11.93" height="2.90" fill="#003015"/>
<rect x="118.87" y="601.20" width="11.93" height="3.40" fill="#00481f"/>
<rect x="118.87" y="604.20" width="11.93" height="2.40" fill="#006a2e"/>
<rect x="118.87" y="606.20" width="11.93" height="3.40" fill="#00682c"/>
<rect x="118.87" y="609.20" width="11.93" height="2.40" fill="#004a20"/>
<rect x="118.87" y="611.20" width="11.93" height="3.40" fill="#00411c"/>
<rect x="118.87" y="614.20" width="11.93" height="3.40" fill="#005c28"/>
<rect x="118.87" y="617.20" width="11.93" height="2.90" fill="#006f30"/>
<rect x="118.87" y="619.70" width="11.93" height="3.40" fill="#009f44"/>
<rect x="118.87" y="622.70" width="11.93" height="1.40" fill="#00441d"/>
<rect x="118.87" y="623.70" width="11.93" height="1.40" fill="#003e1b"/>
<rect x="118.87" y="624.70" width="11.93" height="2.90" fill="#009941"/>
<rect x="118.87" y="627.20" width="11.93" height="3.90" fill="#007633"/>
<rect x="118.87" y="630.70" width="11.93" height="2.40" fill="#001e0d"/>
<rect x="118.87" y="632.70" width="11.93" height="1.40" fill="#00a446"/>
<rect x="118.87" y="633.70" width="11.93" height="3.90" fill="#009c43"/>
<rect x="118.87" y="637.20" width="11.93" height="1.40" fill="#00632b"/>
<rect x="118.87" y="638.20" width="11.93" height="2.90" fill="#9e8a9c"/>
<rect x="118.87" y="640.70" width="11.93" height="1.90" fill="#00692d"/>
<rect x="118.87" y="642.20" width="11.93" height="2.40" fill="#008438"/>
<rect x="118.87" y="644.20" width="11.93" height="1.40" fill="#005a27"/>
<rect x="118.87" y="645.20" width="11.93" height="3.40" fill="#007a34"/>
<rect x="118.87" y="648.20" width="11.93" height="2.40" fill="#008037"/>
<rect x="118.87" y="650.20" width="11.93" height="1.40" fill="#00632a"/>
<rect x="118.87" y="651.20" width="11.93" height="2.40" fill="#00642b"/>
<rect x="118.87" y="653.20" width="11.93" height="3.90" fill="#00411c"/>
<rect x="118.87" y="656.70" width="11.93" height="2.40" fill="#005d28"/>
<rect x="118.87" y="658.70" width="11.93" height="2.40" fill="#00873a"/>
<rect x="118.87" y="660.70" width="11.93" height="2.40" fill="#00873a"/>
<rect x="118.87" y="662.70" width="11.93" height="2.90" fill="#001d0d"/>
<rect x="118.87" y="665.20" width="11.93" height="2.40" fill="#006029"/>
<rect x="118.87" y="667.20" width="11.93" height="2.90" fill="#006a2d"/>
<rect x="130.40" y="457.40" width="11.93" height="1.90" fill="#002a12"/>
<rect x="130.40" y="458.90" width="11.93" height="2.90" fill="#002e14"/>
<rect x="130.40" y="461.40" width="11.93" height="1.90" fill="#005c28"/>
<rect x="130.40" y="462.90" width="11.93" height="1.90" fill="#005022"/>
<rect x="130.40" y="464.40" width="11.93" height="2.90" fill="#003316"/>
<rect x="130.40" y="466.90" width="11.93" height="2.40" fill="#280000"/>
<rect x="130.40" y="468.90" width="11.93" height="1.40" fill="#340000"/>
<rect x="130.40" y="469.90" width="11.93" height="1.40" fill="#380000"/>
<rect x="130.40" y="470.90" width="11.93" height="1.40" fill="#030000"/>
<rect x="130.40" y="471.90" width="11.93" height="1.40" fill="#060000"/>
<rect x="130.40" y="472.90" width="11.93" height="3.40" fill="#150000"/>
<rect x="130.40" y="475.90" width="11.93" height="1.40" fill="#000904"/>
<rect x="130.40" y="476.90" width="11.93" height="2.40" fill="#560000"/>
<rect x="130.40" y="478.90" width="11.93" height="1.90" fill="#001409"/>
<rect x="130.40" y="480.40" width="11.93" height="2.40" fill="#001e0d"/>
<rect x="130.40" y="482.40" width="11.93" height="1.40" fill="#00190b"/>
<rect x="130.40" y="483.40" width="11.93" height="2.40" fill="#000100"/>
<rect x="130.40" y="485.40" width="11.93" height="1.40" fill="#010000"/>
<rect x="130.40" y="486.40" width="11.93" height="2.40" fill="#000d06"/>
<rect x="130.40" y="488.40" width="11.93" height="1.90" fill="#000301"/>
<rect x="130.40" y="489.90" width="11.93" height="2.40" fill="#00200e"/>
<rect x="130.40" y="491.90" width="11.93" height="3.90" fill="#00160a"/>
<rect x="130.40" y="495.40" width="11.93" height="3.40" fill="#00230f"/>
<rect x="130.40" y="498.40" width="11.93" height="2.40" fill="#002510"/>
<rect x="130.40" y="500.40" width="11.93" height="2.40" fill="#4f0000"/>
<rect x="130.40" y="502.40" width="11.93" height="2.40" fill="#430000"/>
<rect x="130.40" y="504.40" width="11.93" height="3.90" fill="#4f0000"/>
<rect x="130.40" y="507.90" width="11.93" height="2.40" fill="#0c0000"/>
<rect x="130.40" y="509.90" width="11.93" height="3.90" fill="#860000"/>
<rect x="130.40" y="513.40" width="11.93" height="3.90" fill="#6c0000"/>
<rect x="130.40" y="516.90" width="11.93" height="2.40" fill="#5e0000"/>
<rect x="130.40" y="518.90" width="11.93" height="2.40" fill="#240000"/>
<rect x="130.40" y="520.90" width="11.93" height="2.40" fill="#3f0000"/>
<rect x="130.40" y="522.90" width="11.93" height="2.40" fill="#002c13"/>
<rect x="130.40" y="524.90" width="11.93" height="1.40" fill="#3a0000"/>
<rect x="130.40" y="525.90" width="11.93" height="1.90" fill="#580000"/>
<rect x="130.40" y="527.40" width="11.93" height="3.90" fill="#0c0000"/>
<rect x="130.40" y="530.90" width="11.93" height="3.40" fill="#1e0000"/>
<rect x="130.40" y="533.90" width="11.93" height="1.90" fill="#2c0000"/>
<rect x="130.40" y="535.40" width="11.93" height="2.40" fill="#3a0000"/>
<rect x="130.40" y="537.40" width="11.93" height="2.90" fill="#2e0000"/>
<rect x="130.40" y="539.90" width="11.93" height="1.40" fill="#830000"/>
<rect x="130.40" y="540.90" width="11.93" height="1.40" fill="#4b0000"/>
<rect x="130.40" y="541.90" width="11.93" height="2.40" fill="#160000"/>
<rect x="130.40" y="543.90" width="11.93" height="1.40" fill="#990000"/>
<rect x="130.40" y="544.90" width="11.93" height="1.90" fill="#410000"/>
<rect x="130.40" y="546.40" width="11.93" height="1.90" fill="#8c0000"/>
<rect x="130.40" y="547.90" width="11.93" height="1.40" fill="#3d0000"/>
<rect x="130.40" y="548.90" width="11.93" height="1.40" fill="#0a0000"/>
<rect x="130.40" y="549.90" width="11.93" height="3.90" fill="#020000"/>
<rect x="130.40" y="553.40" width="11.93" height="1.90" fill="#001007"/>
<rect x="130.40" y="554.90" width="11.93" height="1.40" fill="#6c0000"/>
<rect x="130.40" y="555.90" width="11.93" height="2.40" fill="#710000"/>
<rect x="130.40" y="557.90" width="11.93" height="2.40" fill="#7d0000"/>
<rect x="130.40" y="559.90" width="11.93" height="1.40" fill="#b10000"/>
<rect x="130.40" y="560.90" width="11.93" height="2.40" fill="#970000"/>
<rect x="130.40" y="562.90" width="11.93" height="2.40" fill="#aa0000"/>
<rect x="130.40" y="564.90" width="11.93" height="2.40" fill="#6d0000"/>
<rect x="130.40" y="566.90" width="11.93" height="1.40" fill="#c20000"/>
<rect x="130.40" y="567.90" width="11.93" height="3.40" fill="#9e8a9c"/>
<rect x="130.40" y="570.90" width="11.93" height="3.40" fill="#3f0000"/>
<rect x="130.40" y="573.90" width="11.93" height="2.80" fill="#ed0000"/>
<rect x="130.40" y="576.30" width="11.93" height="2.90" fill="#0e0000"/>
<rect x="130.40" y="578.80" width="11.93" height="2.90" fill="#003a19"/>
<rect x="130.40" y="581.30" width="11.93" height="1.90" fill="#001d0d"/>
<rect x="130.40" y="582.80" width="11.93" height="1.40" fill="#006029"/>
<rect x="130.40" y="583.80" width="11.93" height="2.40" fill="#000c05"/>
<rect x="130.40" y="585.80" width="11.93" height="3.90" fill="#000f07"/>
<rect x="130.40" y="589.30" width="11.93" height="1.40" fill="#00200e"/>
<rect x="130.40" y="590.30" width="11.93" height="3.40" fill="#00692d"/>
<rect x="130.40" y="593.30" width="11.93" height="1.90" fill="#070000"/>
<rect x="130.40" y="594.80" width="11.93" height="1.40" fill="#00170a"/>
<rect x="130.40" y="595.80" width="11.93" height="1.40" fill="#030000"/>
<rect x="130.40" y="596.80" width="11.93" height="2.40" fill="#170000"/>
<rect x="130.40" y="598.80" width="11.93" height="1.40" fill="#002e14"/>
<rect x="130.40" y="599.80" width="11.93" height="2.90" fill="#00b04b"/>
<rect x="130.40" y="602.30" width="11.93" height="1.40" fill="#009f44"/>
<rect x="130.40" y="603.30" width="11.93" height="1.90" fill="#00682c"/>
<rect x="130.40" y="604.80" width="11.93" height="1.90" fill="#005e28"/>
<rect x="130.40" y="606.30" width="11.93" height="3.40" fill="#008c3c"/>
<rect x="130.40" y="609.30" width="11.93" height="1.40" fill="#005b27"/>
<rect x="130.40" y="610.30" width="11.93" height="3.90" fill="#009540"/>
<rect x="130.40" y="613.80" width="11.93" height="2.90" fill="#000804"/>
<rect x="130.40" y="616.30" width="11.93" height="3.40" fill="#00491f"/>
<rect x="130.40" y="619.30" width="11.93" height="2.40" fill="#00451e"/>
<rect x="130.40" y="621.30" width="11.93" height="1.90" fill="#000e06"/>
<rect x="130.40" y="622.80" width="11.93" height="1.40" fill="#040000"/>
<rect x="130.40" y="623.80" width="11.93" height="1.40" fill="#002d13"/>
<rect x="130.40" y="624.80" width="11.93" height="1.40" fill="#001107"/>
<rect x="130.40" y="625.80" width="11.93" height="1.90" fill="#005525"/>
<rect x="130.40" y="627.30" width="11.93" height="2.40" fill="#005725"/>
<rect x="130.40" y="629.30" width="11.93" height="1.40" fill="#002f14"/>
<rect x="130.40" y="630.30" width="11.93" height="2.40" fill="#00682d"/>
<rect x="130.40" y="632.30" width="11.93" height="3.90" fill="#005625"/>
<rect x="130.40" y="635.80" width="11.93" height="3.40" fill="#006b2e"/>
<rect x="130.40" y="638.80" width="11.93" height="1.40" fill="#000703"/>
<rect x="130.40" y="639.80" width="11.93" height="2.40" fill="#004b20"/>
<rect x="130.40" y="641.80" width="11.93" height="3.40" fill="#006c2e"/>
<rect x="130.40" y="644.80" width="11.93" height="1.40" fill="#005524"/>
<rect x="130.40" y="645.80" width="11.93" height="2.90" fill="#00ad4a"/>
<rect x="130.40" y="648.30" width="11.93" height="2.40" fill="#007c35"/>
<rect x="130.40" y="650.30" width="11.93" height="2.90" fill="#007c35"/>
<rect x="130.40" y="652.80" width="11.93" height="2.90" fill="#008d3c"/>
<rect x="130.40" y="655.30" width="11.93" height="3.90" fill="#00461e"/>
<rect x="130.40" y="658.80" width="11.93" height="2.40" fill="#007d36"/>
<rect x="130.40" y="660.80" width="11.93" height="1.90" fill="#00873a"/>
<rect x="130.40" y="662.30" width="11.93" height="3.40" fill="#00c253"/>
<rect x="130.40" y="665.30" width="11.93" height="3.40" fill="#007733"/>
<rect x="130.40" y="668.30" width="11.93" height="1.80" fill="#00401b"/>
<rect x="141.93" y="457.40" width="11.93" height="2.40" fill="#003216"/>
<rect x="141.93" y="459.40" width="11.93" height="3.40" fill="#003215"/>
<rect x="141.93" y="462.40" width="11.93" height="1.90" fill="#140000"/>
<rect x="141.93" y="463.90" width="11.93" height="2.90" fill="#260000"/>
<rect x="141.93" y="466.40" width="11.93" height="1.40" fill="#000f07"/>
<rect x="141.93" y="467.40" width="11.93" height="2.40" fill="#6e0000"/>
<rect x="141.93" y="469.40" width="11.93" height="3.90" fill="#430000"/>
<rect x="141.93" y="472.90" width="11.93" height="1.40" fill="#100000"/>
<rect x="141.93" y="473.90" width="11.93" height="1.40" fill="#430000"/>
<rect x="141.93" y="474.90" width="11.93" height="2.90" fill="#310000"/>
<rect x="141.93" y="477.40" width="11.93" height="2.90" fill="#4d0000"/>
<rect x="141.93" y="479.90" width="11.93" height="2.90" fill="#1b0000"/>
<rect x="141.93" y="482.40" width="11.93" height="2.40" fill="#520000"/>
<rect x="141.93" y="484.40" width="11.93" height="2.40" fill="#010000"/>
<rect x="141.93" y="486.40" width="11.93" height="2.40" fill="#100000"/>
<rect x="141.93" y="488.40" width="11.93" height="3.90" fill="#0d0000"/>
<rect x="141.93" y="491.90" width="11.93" height="3.90" fill="#080000"/>
<rect x="141.93" y="495.40" width="11.93" height="1.40" fill="#110000"/>
<rect x="141.93" y="496.40" width="11.93" height="2.90" fill="#000100"/>
<rect x="141.93" y="498.90" width="11.93" height="2.40" fill="#090000"/>
<rect x="141.93" y="500.90" width="11.93" height="3.40" fill="#4d0000"/>
<rect x="141.93" y="503.90" width="11.93" height="3.90" fill="#1c0000"/>
<rect x="141.93" y="507.40" width="11.93" height="3.90" fill="#490000"/>
<rect x="141.93" y="510.90" width="11.93" height="3.40" fill="#330000"/>
<rect x="141.93" y="513.90" width="11.93" height="1.90" fill="#110000"/>
<rect x="141.93" y="515.40" width="11.93" height="2.40" fill="#510000"/>
<rect x="141.93" y="517.40" width="11.93" height="3.90" fill="#2c0000"/>
<rect x="141.93" y="520.90" width="11.93" height="2.40" fill="#250000"/>
<rect x="141.93" y="522.90" width="11.93" height="1.40" fill="#610000"/>
<rect x="141.93" y="523.90" width="11.93" height="1.90" fill="#230000"/>
<rect x="141.93" y="525.40" width="11.93" height="1.40" fill="#2b0000"/>
<rect x="141.93" y="526.40" width="11.93" height="1.90" fill="#370000"/>
<rect x="141.93" y="527.90" width="11.93" height="1.40" fill="#3d0000"/>
<rect x="141.93" y="528.90" width="11.93" height="3.40" fill="#4c0000"/>
<rect x="141.93" y="531.90" width="11.93" height="1.40" fill="#00220e"/>
<rect x="141.93" y="532.90" width="11.93" height="3.40" fill="#1e0000"/>
<rect x="141.93" y="535.90" width="11.93" height="2.40" fill="#680000"/>
<rect x="141.93" y="537.90" width="11.93" height="3.90" fill="#000a04"/>
<rect x="141.93" y="541.40" width="11.93" height="3.40" fill="#4e0000"/>
<rect x="141.93" y="544.40" width="11.93" height="1.90" fill="#750000"/>
<rect x="141.93" y="545.90" width="11.93" height="1.90" fill="#250000"/>
<rect x="141.93" y="547.40" width="11.93" height="1.40" fill="#770000"/>
<rect x="141.93" y="548.40" width="11.93" height="2.40" fill="#5e0000"/>
<rect x="141.93" y="550.40" width="11.93" height="2.40" fill="#650000"/>
<rect x="141.93" y="552.40" width="11.93" height="2.90" fill="#640000"/>
<rect x="141.93" y="554.90" width="11.93" height="2.40" fill="#1b0000"/>
<rect x="141.93" y="556.90" width="11.93" height="3.40" fill="#7d0000"/>
<rect x="141.93" y="559.90" width="11.93" height="1.40" fill="#000201"/>
<rect x="141.93" y="560.90" width="11.93" height="1.40" fill="#430000"/>
<rect x="141.93" y="561.90" width="11.93" height="3.90" fill="#5c0000"/>
<rect x="141.93" y="565.40" width="11.93" height="2.90" fill="#580000"/>
<rect x="141.93" y="567.90" width="11.93" height="2.40" fill="#4c0000"/>
<rect x="141.93" y="569.90" width="11.93" height="3.40" fill="#120000"/>
<rect x="141.93" y="572.90" width="11.93" height="3.40" fill="#5e0000"/>
<rect x="141.93" y="575.90" width="11.93" height="0.80" fill="#2a0000"/>
<rect x="141.93" y="576.30" width="11.93" height="2.40" fill="#00903e"/>
<rect x="141.93" y="578.30" width="11.93" height="1.90" fill="#006029"/>
<rect x="141.93" y="579.80" width="11.93" height="2.40" fill="#00933f"/>
<rect x="141.93" y="581.80" width="11.93" height="1.40" fill="#005e28"/>
<rect x="141.93" y="582.80" width="11.93" height="3.40" fill="#007934"/>
<rect x="141.93" y="585.80" width="11.93" height="1.90" fill="#00471f"/>
<rect x="141.93" y="587.30" width="11.93" height="2.40" fill="#007a34"/>
<rect x="141.93" y="589.30" width="11.93" height="3.90" fill="#00692d"/>
<rect x="141.93" y="592.80" width="11.93" height="3.90" fill="#002a12"/>
<rect x="141.93" y="596.30" width="11.93" height="2.40" fill="#003818"/>
<rect x="141.93" y="598.30" width="11.93" height="3.90" fill="#00903e"/>
<rect x="141.93" y="601.80" width="11.93" height="2.90" fill="#007a34"/>
<rect x="141.93" y="604.30" width="11.93" height="1.40" fill="#007432"/>
<rect x="141.93" y="605.30" width="11.93" height="1.40" fill="#007231"/>
<rect x="141.93" y="606.30" width="11.93" height="2.90" fill="#004b20"/>
<rect x="141.93" y="608.80" width="11.93" height="3.40" fill="#008f3d"/>
<rect x="141.93" y="611.80" width="11.93" height="1.40" fill="#006a2d"/>
<rect x="141.93" y="612.80" width="11.93" height="1.40" fill="#005c28"/>
<rect x="141.93" y="613.80" width="11.93" height="1.90" fill="#00441d"/>
<rect x="141.93" y="615.30" width="11.93" height="1.90" fill="#007e36"/>
<rect x="141.93" y="616.80" width="11.93" height="2.40" fill="#005625"/>
<rect x="141.93" y="618.80" width="11.93" height="3.90" fill="#008e3d"/>
<rect x="141.93" y="622.30" width="11.93" height="1.40" fill="#009540"/>
<rect x="141.93" y="623.30" width="11.93" height="3.40" fill="#005f29"/>
<rect x="141.93" y="626.30" width="11.93" height="3.90" fill="#00ad4a"/>
<rect x="141.93" y="629.80" width="11.93" height="1.90" fill="#007633"/>
<rect x="141.93" y="631.30" width="11.93" height="2.40" fill="#00bd51"/>
<rect x="141.93" y="633.30" width="11.93" height="1.90" fill="#00a346"/>
<rect x="141.93" y="634.80" width="11.93" height="2.90" fill="#006a2d"/>
<rect x="141.93" y="637.30" width="11.93" height="2.90" fill="#007432"/>
<rect x="141.93" y="639.80" width="11.93" height="1.40" fill="#007633"/>
<rect x="141.93" y="640.80" width="11.93" height="2.40" fill="#005a27"/>
<rect x="141.93" y="642.80" width="11.93" height="1.90" fill="#00682d"/>
<rect x="141.93" y="644.30" width="11.93" height="2.40" fill="#007e36"/>
<rect x="141.93" y="646.30" width="11.93" height="3.90" fill="#007030"/>
<rect x="141.93" y="649.80" width="11.93" height="1.90" fill="#009b43"/>
<rect x="141.93" y="651.30" width="11.93" height="3.90" fill="#9e8a9c"/>
<rect x="141.93" y="654.80" width="11.93" height="2.40" fill="#00622a"/>
<rect x="141.93" y="656.80" width="11.93" height="3.90" fill="#00933f"/>
<rect x="141.93" y="660.30" width="11.93" height="3.90" fill="#005d28"/>
<rect x="141.93" y="663.80" width="11.93" height="1.90" fill="#007e36"/>
<rect x="141.93" y="665.30" width="11.93" height="1.40" fill="#005123"/>
<rect x="141.93" y="666.30" width="11.93" height="2.90" fill="#008b3b"/>
<rect x="141.93" y="668.80" width="11.93" height="1.30" fill="#009741"/>
<rect x="153.47" y="457.40" width="11.93" height="3.40" fill="#000402"/>
<rect x="153.47" y="460.40" width="11.93" height="1.40" fill="#090000"/>
<rect x="153.47" y="461.40" width="11.93" height="2.90" fill="#340000"/>
<rect x="153.47" y="463.90" width="11.93" height="1.90" fill="#470000"/>
<rect x="153.47" y="465.40" width="11.93" height="1.40" fill="#530000"/>
<rect x="153.47" y="466.40" width="11.93" height="3.40" fill="#1f0000"/>
<rect x="153.47" y="469.40" width="11.93" height="1.40" fill="#150000"/>
<rect x="153.47" y="470.40" width="11.93" height="2.90" fill="#5f0000"/>
<rect x="153.47" y="472.90" width="11.93" height="3.40" fill="#590000"/>
<rect x="153.47" y="475.90" width="11.93" height="1.90" fill="#320000"/>
<rect x="153.47" y="477.40" width="11.93" height="2.40" fill="#310000"/>
<rect x="153.47" y="479.40" width="11.93" height="1.40" fill="#380000"/>
<rect x="153.47" y="480.40" width="11.93" height="1.40" fill="#500000"/>
<rect x="153.47" y="481.40" width="11.93" height="2.40" fill="#570000"/>
<rect x="153.47" y="483.40" width="11.93" height="1.40" fill="#390000"/>
<rect x="153.47" y="484.40" width="11.93" height="2.40" fill="#390000"/>
<rect x="153.47" y="486.40" width="11.93" height="2.90" fill="#270000"/>
<rect x="153.47" y="488.90" width="11.93" height="1.40" fill="#b20000"/>
<rect x="153.47" y="489.90" width="11.93" height="2.40" fill="#d10000"/>
<rect x="153.47" y="491.90" width="11.93" height="2.40" fill="#950000"/>
<rect x="153.47" y="493.90" width="11.93" height="2.90" fill="#870000"/>
<rect x="153.47" y="496.40" width="11.93" height="3.40" fill="#a00000"/>
<rect x="153.47" y="499.40" width="11.93" height="2.40" fill="#110000"/>
<rect x="153.47" y="501.40" width="11.93" height="3.40" fill="#270000"/>
<rect x="153.47" y="504.40" width="11.93" height="3.40" fill="#3c0000"/>
<rect x="153.47" y="507.40" width="11.93" height="2.40" fill="#090000"/>
<rect x="153.47" y="509.40" width="11.93" height="3.90" fill="#500000"/>
<rect x="153.47" y="512.90" width="11.93" height="1.40" fill="#280000"/>
<rect x="153.47" y="513.90" width="11.93" height="2.40" fill="#4f0000"/>
<rect x="153.47" y="515.90" width="11.93" height="3.90" fill="#230000"/>
<rect x="153.47" y="519.40" width="11.93" height="3.40" fill="#140000"/>
<rect x="153.47" y="522.40" width="11.93" height="1.40" fill="#730000"/>
<rect x="153.47" y="523.40" width="11.93" height="2.40" fill="#360000"/>
<rect x="153.47" y="525.40" width="11.93" height="3.90" fill="#000000"/>
<rect x="153.47" y="528.90" width="11.93" height="1.40" fill="#100000"/>
<rect x="153.47" y="529.90" width="11.93" height="1.90" fill="#440000"/>
<rect x="153.47" y="531.40" width="11.93" height="3.90" fill="#360000"/>
<rect x="153.47" y="534.90" width="11.93" height="3.40" fill="#330000"/>
<rect x="153.47" y="537.90" width="11.93" height="1.90" fill="#060000"/>
<rect x="153.47" y="539.40" width="11.93" height="3.90" fill="#820000"/>
<rect x="153.47" y="542.90" width="11.93" height="1.40" fill="#1e0000"/>
<rect x="153.47" y="543.90" width="11.93" height="1.40" fill="#9e8a9c"/>
<rect x="153.47" y="544.90" width="11.93" height="1.90" fill="#270000"/>
<rect x="153.47" y="546.40" width="11.93" height="2.40" fill="#5a0000"/>
<rect x="153.47" y="548.40" width="11.93" height="2.40" fill="#650000"/>
<rect x="153.47" y="550.40" width="11.93" height="3.40" fill="#4e0000"/>
<rect x="153.47" y="553.40" width="11.93" height="2.40" fill="#340000"/>
<rect x="153.47" y="555.40" width="11.93" height="3.40" fill="#230000"/>
<rect x="153.47" y="558.40" width="11.93" height="1.40" fill="#000904"/>
<rect x="153.47" y="559.40" width="11.93" height="3.90" fill="#330000"/>
<rect x="153.47" y="562.90" width="11.93" height="3.40" fill="#4a0000"/>
<rect x="153.47" y="565.90" width="11.93" height="1.40" fill="#3a0000"/>
<rect x="153.47" y="566.90" width="11.93" height="1.40" fill="#200000"/>
<rect x="153.47" y="567.90" width="11.93" height="3.40" fill="#0e0000"/>
<rect x="153.47" y="570.90" width="11.93" height="2.40" fill="#4a0000"/>
<rect x="153.47" y="572.90" width="11.93" height="2.40" fill="#2c0000"/>
<rect x="153.47" y="574.90" width="11.93" height="1.80" fill="#1a0000"/>
<rect x="153.47" y="576.30" width="11.93" height="2.90" fill="#008539"/>
<rect x="153.47" y="578.80" width="11.93" height="1.90" fill="#008e3d"/>
<rect x="153.47" y="580.30" width="11.93" height="2.40" fill="#001a0b"/>
<rect x="153.47" y="582.30" width="11.93" height="2.40" fill="#007a34"/>
<rect x="153.47" y="584.30" width="11.93" height="1.40" fill="#00632a"/>
<rect x="153.47" y="585.30" width="11.93" height="1.40" fill="#00c153"/>
<rect x="153.47" y="586.30" width="11.93" height="2.40" fill="#003b19"/>
<rect x="153.47" y="588.30" width="11.93" height="2.90" fill="#007f36"/>
<rect x="153.47" y="590.80" width="11.93" height="2.40" fill="#00441d"/>
<rect x="153.47" y="592.80" width="11.93" height="1.90" fill="#008238"/>
<rect x="153.47" y="594.30" width="11.93" height="2.40" fill="#005826"/>
<rect x="153.47" y="596.30" width="11.93" height="1.40" fill="#003f1b"/>
<rect x="153.47" y="597.30" width="11.93" height="3.40" fill="#004d21"/>
<rect x="153.47" y="600.30" width="11.93" height="1.40" fill="#00ac4a"/>
<rect x="153.47" y="601.30" width="11.93" height="1.40" fill="#00682c"/>
<rect x="153.47" y="602.30" width="11.93" height="3.90" fill="#007130"/>
<rect x="153.47" y="605.80" width="11.93" height="3.90" fill="#00652b"/>
<rect x="153.47" y="609.30" width="11.93" height="3.40" fill="#00883a"/>
<rect x="153.47" y="612.30" width="11.93" height="1.40" fill="#007231"/>
<rect x="153.47" y="613.30" width="11.93" height="3.40" fill="#009841"/>
<rect x="153.47" y="616.30" width="11.93" height="2.40" fill="#005d28"/>
<rect x="153.47" y="618.30" width="11.93" height="1.40" fill="#005424"/>
<rect x="153.47" y="619.30" width="11.93" height="3.40" fill="#003718"/>
<rect x="153.47" y="622.30" width="11.93" height="3.40" fill="#009640"/>
<rect x="153.47" y="625.30" width="11.93" height="1.90" fill="#007833"/>
<rect x="153.47" y="626.80" width="11.93" height="1.90" fill="#007b35"/>
<rect x="153.47" y="628.30" width="11.93" height="1.90" fill="#00893b"/>
<rect x="153.47" y="629.80" width="11.93" height="1.40" fill="#005a27"/>
<rect x="153.47" y="630.80" width="11.93" height="1.40" fill="#008d3c"/>
<rect x="153.47" y="631.80" width="11.93" height="3.90" fill="#00a045"/>
<rect x="153.47" y="635.30" width="11.93" height="1.40" fill="#009c43"/>
<rect x="153.47" y="636.30" width="11.93" height="2.90" fill="#00923f"/>
<rect x="153.47" y="638.80" width="11.93" height="1.40" fill="#00883a"/>
<rect x="153.47" y="639.80" width="11.93" height="3.90" fill="#008e3d"/>
<rect x="153.47" y="643.30" width="11.93" height="1.40" fill="#00652b"/>
<rect x="153.47" y="644.30" width="11.93" height="3.40" fill="#00e462"/>
<rect x="153.47" y="647.30" width="11.93" height="2.90" fill="#00692d"/>
<rect x="153.47" y="649.80" width="11.93" height="2.90" fill="#007b35"/>
<rect x="153.47" y="652.30" width="11.93" height="1.40" fill="#00aa49"/>
<rect x="153.47" y="653.30" width="11.93" height="1.40" fill="#00903e"/>
<rect x="153.47" y="654.30" width="11.93" height="3.40" fill="#007b35"/>
<rect x="153.47" y="657.30" width="11.93" height="2.40" fill="#006c2e"/>
<rect x="153.47" y="659.30" width="11.93" height="2.40" fill="#007331"/>
<rect x="153.47" y="661.30" width="11.93" height="2.40" fill="#006e2f"/>
<rect x="153.47" y="663.30" width="11.93" height="2.40" fill="#008037"/>
<rect x="153.47" y="665.30" width="11.93" height="2.40" fill="#009540"/>
<rect x="153.47" y="667.30" width="11.93" height="1.90" fill="#004c21"/>
<rect x="153.47" y="668.80" width="11.93" height="1.30" fill="#00a145"/>
</g>
<defs><linearGradient id="cb" x1="0" y1="0" x2="0" y2="1"><stop offset="0" stop-color="#ff0000"/><stop offset="0.52" stop-color="#000000"/><stop offset="1" stop-color="#00ff66"/></linearGradient></defs>
<rect x="170.6" y="458.8" width="7.6" height="41.6" fill="url(#cb)" stroke="#333" stroke-width="0.8"/>
<text x="181.80" y="462.00" font-size="7.6" text-anchor="start" fill="#1e1e1e" stroke="#1e1e1e" stroke-width="0.22" font-weight="normal" >2</text>
<text x="181.60" y="503.60" font-size="7.6" text-anchor="start" fill="#1e1e1e" stroke="#1e1e1e" stroke-width="0.22" font-weight="normal" >-2</text>
<text transform="translate(64.22,422.3) rotate(90)" font-size="7.7" fill="#1e1e1e" stroke="#1e1e1e" stroke-width="0.22">T0-1</text>
<text transform="translate(75.75,422.3) rotate(90)" font-size="7.7" fill="#1e1e1e" stroke="#1e1e1e" stroke-width="0.22">T0-2</text>
<text transform="translate(87.28,422.3) rotate(90)" font-size="7.7" fill="#1e1e1e" stroke="#1e1e1e" stroke-width="0.22">T0-3</text>
<text transform="translate(98.82,422.3) rotate(90)" font-size="7.7" fill="#1e1e1e" stroke="#1e1e1e" stroke-width="0.22">T12-1</text>
<text transform="translate(110.35,422.3) rotate(90)" font-size="7.7" fill="#1e1e1e" stroke="#1e1e1e" stroke-width="0.22">T12-2</text>
<text transform="translate(121.88,422.3) rotate(90)" font-size="7.7" fill="#1e1e1e" stroke="#1e1e1e" stroke-width="0.22">T12-3</text>
<text transform="translate(133.42,422.3) rotate(90)" font-size="7.7" fill="#1e1e1e" stroke="#1e1e1e" stroke-width="0.22">T12SA-1</text>
<text transform="translate(144.95,422.3) rotate(90)" font-size="7.7" fill="#1e1e1e" stroke="#1e1e1e" stroke-width="0.22">T12SA-2</text>
<text transform="translate(156.48,422.3) rotate(90)" font-size="7.7" fill="#1e1e1e" stroke="#1e1e1e" stroke-width="0.22">T12SA-3</text>
<polyline points="66.97,417.40 66.97,416.00 84.30,416.00" fill="none" stroke="#111" stroke-width="0.95"/>
<polyline points="84.30,416.00 84.30,417.30" fill="none" stroke="#111" stroke-width="0.95"/>
<polyline points="78.50,418.60 78.50,417.30 90.03,417.30 90.03,418.60" fill="none" stroke="#111" stroke-width="0.95"/>
<polyline points="75.60,416.00 75.60,399.20 127.50,399.20 127.50,415.40" fill="none" stroke="#111" stroke-width="1.0"/>
<polyline points="101.57,417.40 101.57,415.40 153.60,415.40" fill="none" stroke="#111" stroke-width="0.95"/>
<polyline points="118.90,415.40 118.90,418.50" fill="none" stroke="#111" stroke-width="0.95"/>
<polyline points="113.10,420.00 113.10,418.50 124.63,418.50 124.63,420.00" fill="none" stroke="#111" stroke-width="0.95"/>
<polyline points="136.17,417.90 136.17,416.30 153.60,416.30" fill="none" stroke="#111" stroke-width="0.95"/>
<polyline points="153.60,415.40 153.60,418.50" fill="none" stroke="#111" stroke-width="0.95"/>
<polyline points="147.70,420.00 147.70,418.50 159.23,418.50 159.23,420.00" fill="none" stroke="#111" stroke-width="0.95"/>
<polyline points="51.05,458.30 53.21,458.17" fill="none" stroke="#000" stroke-width="1.0"/>
<polyline points="51.05,459.60 54.19,459.89" fill="none" stroke="#000" stroke-width="1.0"/>
<polyline points="51.05,458.30 51.05,459.60" fill="none" stroke="#000" stroke-width="1.0"/>
<polyline points="46.51,458.95 51.05,458.95" fill="none" stroke="#000" stroke-width="1.0"/>
<polyline points="52.49,460.90 54.87,460.90" fill="none" stroke="#000" stroke-width="1.0"/>
<polyline points="52.49,462.20 54.23,461.90" fill="none" stroke="#000" stroke-width="1.0"/>
<polyline points="52.49,463.50 54.54,463.55" fill="none" stroke="#000" stroke-width="1.0"/>
<polyline points="52.49,460.90 52.49,463.50" fill="none" stroke="#000" stroke-width="1.0"/>
<polyline points="46.62,462.20 52.49,462.20" fill="none" stroke="#000" stroke-width="1.0"/>
<polyline points="46.78,464.80 52.95,464.80" fill="none" stroke="#000" stroke-width="1.0"/>
<polyline points="52.91,466.10 55.60,466.06" fill="none" stroke="#000" stroke-width="1.0"/>
<polyline points="52.91,467.40 55.60,467.56" fill="none" stroke="#000" stroke-width="1.0"/>
<polyline points="52.91,466.10 52.91,467.40" fill="none" stroke="#000" stroke-width="1.0"/>
<polyline points="46.84,466.75 52.91,466.75" fill="none" stroke="#000" stroke-width="1.0"/>
<polyline points="51.78,468.70 53.06,468.60" fill="none" stroke="#000" stroke-width="1.0"/>
<polyline points="51.78,470.00 54.12,469.77" fill="none" stroke="#000" stroke-width="1.0"/>
<polyline points="51.78,471.30 55.17,471.22" fill="none" stroke="#000" stroke-width="1.0"/>
<polyline points="51.78,468.70 51.78,471.30" fill="none" stroke="#000" stroke-width="1.0"/>
<polyline points="46.95,470.00 51.78,470.00" fill="none" stroke="#000" stroke-width="1.0"/>
<polyline points="52.24,472.60 53.65,472.79" fill="none" stroke="#000" stroke-width="1.0"/>
<polyline points="52.24,473.90 53.49,473.70" fill="none" stroke="#000" stroke-width="1.0"/>
<polyline points="52.24,472.60 52.24,473.90" fill="none" stroke="#000" stroke-width="1.0"/>
<polyline points="47.36,473.25 52.24,473.25" fill="none" stroke="#000" stroke-width="1.0"/>
<polyline points="50.77,475.20 53.08,475.01" fill="none" stroke="#000" stroke-width="1.0"/>
<polyline points="50.77,476.50 52.05,476.72" fill="none" stroke="#000" stroke-width="1.0"/>
<polyline points="50.77,477.80 52.51,477.97" fill="none" stroke="#000" stroke-width="1.0"/>
<polyline points="50.77,479.10 52.45,479.38" fill="none" stroke="#000" stroke-width="1.0"/>
<polyline points="50.77,475.20 50.77,479.10" fill="none" stroke="#000" stroke-width="1.0"/>
<polyline points="47.73,477.15 50.77,477.15" fill="none" stroke="#000" stroke-width="1.0"/>
<polyline points="52.29,480.40 55.25,480.45" fill="none" stroke="#000" stroke-width="1.0"/>
<polyline points="52.29,481.70 55.17,481.47" fill="none" stroke="#000" stroke-width="1.0"/>
<polyline points="52.29,483.00 54.59,483.20" fill="none" stroke="#000" stroke-width="1.0"/>
<polyline points="52.29,484.30 53.96,484.55" fill="none" stroke="#000" stroke-width="1.0"/>
<polyline points="52.29,480.40 52.29,484.30" fill="none" stroke="#000" stroke-width="1.0"/>
<polyline points="48.40,482.35 52.29,482.35" fill="none" stroke="#000" stroke-width="1.0"/>
<polyline points="51.02,485.60 53.06,485.57" fill="none" stroke="#000" stroke-width="1.0"/>
<polyline points="51.02,486.90 53.10,487.20" fill="none" stroke="#000" stroke-width="1.0"/>
<polyline points="51.02,488.20 53.10,487.92" fill="none" stroke="#000" stroke-width="1.0"/>
<polyline points="51.02,485.60 51.02,488.20" fill="none" stroke="#000" stroke-width="1.0"/>
<polyline points="48.42,486.90 51.02,486.90" fill="none" stroke="#000" stroke-width="1.0"/>
<polyline points="48.44,489.50 52.99,489.50" fill="none" stroke="#000" stroke-width="1.0"/>
<polyline points="53.17,490.80 55.51,490.79" fill="none" stroke="#000" stroke-width="1.0"/>
<polyline points="53.17,492.10 55.60,492.25" fill="none" stroke="#000" stroke-width="1.0"/>
<polyline points="53.17,493.40 54.88,493.47" fill="none" stroke="#000" stroke-width="1.0"/>
<polyline points="53.17,494.70 55.60,494.77" fill="none" stroke="#000" stroke-width="1.0"/>
<polyline points="53.17,490.80 53.17,494.70" fill="none" stroke="#000" stroke-width="1.0"/>
<polyline points="48.45,492.75 53.17,492.75" fill="none" stroke="#000" stroke-width="1.0"/>
<polyline points="51.98,496.00 54.62,496.20" fill="none" stroke="#000" stroke-width="1.0"/>
<polyline points="51.98,497.30 53.94,497.46" fill="none" stroke="#000" stroke-width="1.0"/>
<polyline points="51.98,496.00 51.98,497.30" fill="none" stroke="#000" stroke-width="1.0"/>
<polyline points="48.47,496.65 51.98,496.65" fill="none" stroke="#000" stroke-width="1.0"/>
<polyline points="50.41,498.60 52.00,498.85" fill="none" stroke="#000" stroke-width="1.0"/>
<polyline points="50.41,499.90 52.01,499.86" fill="none" stroke="#000" stroke-width="1.0"/>
<polyline points="50.41,498.60 50.41,499.90" fill="none" stroke="#000" stroke-width="1.0"/>
<polyline points="48.48,499.25 50.41,499.25" fill="none" stroke="#000" stroke-width="1.0"/>
<polyline points="52.03,501.20 54.78,501.44" fill="none" stroke="#000" stroke-width="1.0"/>
<polyline points="52.03,502.50 55.43,502.44" fill="none" stroke="#000" stroke-width="1.0"/>
<polyline points="52.03,501.20 52.03,502.50" fill="none" stroke="#000" stroke-width="1.0"/>
<polyline points="48.49,501.85 52.03,501.85" fill="none" stroke="#000" stroke-width="1.0"/>
<polyline points="53.06,503.80 55.60,504.03" fill="none" stroke="#000" stroke-width="1.0"/>
<polyline points="53.06,505.10 55.39,505.03" fill="none" stroke="#000" stroke-width="1.0"/>
<polyline points="53.06,503.80 53.06,505.10" fill="none" stroke="#000" stroke-width="1.0"/>
<polyline points="48.50,504.45 53.06,504.45" fill="none" stroke="#000" stroke-width="1.0"/>
<polyline points="52.96,506.40 54.73,506.44" fill="none" stroke="#000" stroke-width="1.0"/>
<polyline points="52.96,507.70 55.18,507.64" fill="none" stroke="#000" stroke-width="1.0"/>
<polyline points="52.96,506.40 52.96,507.70" fill="none" stroke="#000" stroke-width="1.0"/>
<polyline points="48.51,507.05 52.96,507.05" fill="none" stroke="#000" stroke-width="1.0"/>
<polyline points="51.30,509.00 54.42,508.73" fill="none" stroke="#000" stroke-width="1.0"/>
<polyline points="51.30,510.30 53.09,510.17" fill="none" stroke="#000" stroke-width="1.0"/>
<polyline points="51.30,511.60 53.46,511.40" fill="none" stroke="#000" stroke-width="1.0"/>
<polyline points="51.30,512.90 52.66,512.80" fill="none" stroke="#000" stroke-width="1.0"/>
<polyline points="51.30,509.00 51.30,512.90" fill="none" stroke="#000" stroke-width="1.0"/>
<polyline points="48.52,510.95 51.30,510.95" fill="none" stroke="#000" stroke-width="1.0"/>
<polyline points="53.14,514.20 55.60,514.19" fill="none" stroke="#000" stroke-width="1.0"/>
<polyline points="53.14,515.50 54.92,515.78" fill="none" stroke="#000" stroke-width="1.0"/>
<polyline points="53.14,514.20 53.14,515.50" fill="none" stroke="#000" stroke-width="1.0"/>
<polyline points="48.54,514.85 53.14,514.85" fill="none" stroke="#000" stroke-width="1.0"/>
<polyline points="52.88,516.80 55.18,517.07" fill="none" stroke="#000" stroke-width="1.0"/>
<polyline points="52.88,518.10 55.60,518.02" fill="none" stroke="#000" stroke-width="1.0"/>
<polyline points="52.88,519.40 54.43,519.32" fill="none" stroke="#000" stroke-width="1.0"/>
<polyline points="52.88,516.80 52.88,519.40" fill="none" stroke="#000" stroke-width="1.0"/>
<polyline points="48.55,518.10 52.88,518.10" fill="none" stroke="#000" stroke-width="1.0"/>
<polyline points="51.33,520.70 54.61,520.69" fill="none" stroke="#000" stroke-width="1.0"/>
<polyline points="51.33,522.00 52.85,522.05" fill="none" stroke="#000" stroke-width="1.0"/>
<polyline points="51.33,523.30 52.85,523.43" fill="none" stroke="#000" stroke-width="1.0"/>
<polyline points="51.33,520.70 51.33,523.30" fill="none" stroke="#000" stroke-width="1.0"/>
<polyline points="48.57,522.00 51.33,522.00" fill="none" stroke="#000" stroke-width="1.0"/>
<polyline points="52.06,524.60 55.46,524.31" fill="none" stroke="#000" stroke-width="1.0"/>
<polyline points="52.06,525.90 54.63,525.99" fill="none" stroke="#000" stroke-width="1.0"/>
<polyline points="52.06,527.20 55.22,527.25" fill="none" stroke="#000" stroke-width="1.0"/>
<polyline points="52.06,524.60 52.06,527.20" fill="none" stroke="#000" stroke-width="1.0"/>
<polyline points="48.59,525.90 52.06,525.90" fill="none" stroke="#000" stroke-width="1.0"/>
<polyline points="52.06,528.50 54.99,528.69" fill="none" stroke="#000" stroke-width="1.0"/>
<polyline points="52.06,529.80 53.58,529.59" fill="none" stroke="#000" stroke-width="1.0"/>
<polyline points="52.06,528.50 52.06,529.80" fill="none" stroke="#000" stroke-width="1.0"/>
<polyline points="48.60,529.15 52.06,529.15" fill="none" stroke="#000" stroke-width="1.0"/>
<polyline points="49.95,531.10 51.21,531.07" fill="none" stroke="#000" stroke-width="1.0"/>
<polyline points="49.95,532.40 51.48,532.62" fill="none" stroke="#000" stroke-width="1.0"/>
<polyline points="49.95,533.70 52.66,533.48" fill="none" stroke="#000" stroke-width="1.0"/>
<polyline points="49.95,531.10 49.95,533.70" fill="none" stroke="#000" stroke-width="1.0"/>
<polyline points="48.62,532.40 49.95,532.40" fill="none" stroke="#000" stroke-width="1.0"/>
<polyline points="52.99,535.00 55.10,535.23" fill="none" stroke="#000" stroke-width="1.0"/>
<polyline points="52.99,536.30 55.60,536.11" fill="none" stroke="#000" stroke-width="1.0"/>
<polyline points="52.99,537.60 55.60,537.42" fill="none" stroke="#000" stroke-width="1.0"/>
<polyline points="52.99,535.00 52.99,537.60" fill="none" stroke="#000" stroke-width="1.0"/>
<polyline points="48.63,536.30 52.99,536.30" fill="none" stroke="#000" stroke-width="1.0"/>
<polyline points="51.60,538.90 52.91,539.03" fill="none" stroke="#000" stroke-width="1.0"/>
<polyline points="51.60,540.20 54.81,540.36" fill="none" stroke="#000" stroke-width="1.0"/>
<polyline points="51.60,541.50 54.62,541.20" fill="none" stroke="#000" stroke-width="1.0"/>
<polyline points="51.60,542.80 53.87,542.54" fill="none" stroke="#000" stroke-width="1.0"/>
<polyline points="51.60,538.90 51.60,542.80" fill="none" stroke="#000" stroke-width="1.0"/>
<polyline points="48.65,540.85 51.60,540.85" fill="none" stroke="#000" stroke-width="1.0"/>
<polyline points="50.29,544.10 53.13,543.95" fill="none" stroke="#000" stroke-width="1.0"/>
<polyline points="50.29,545.40 53.09,545.29" fill="none" stroke="#000" stroke-width="1.0"/>
<polyline points="50.29,546.70 51.59,546.63" fill="none" stroke="#000" stroke-width="1.0"/>
<polyline points="50.29,544.10 50.29,546.70" fill="none" stroke="#000" stroke-width="1.0"/>
<polyline points="48.67,545.40 50.29,545.40" fill="none" stroke="#000" stroke-width="1.0"/>
<polyline points="52.24,548.00 55.60,548.19" fill="none" stroke="#000" stroke-width="1.0"/>
<polyline points="52.24,549.30 55.28,549.29" fill="none" stroke="#000" stroke-width="1.0"/>
<polyline points="52.24,548.00 52.24,549.30" fill="none" stroke="#000" stroke-width="1.0"/>
<polyline points="48.69,548.65 52.24,548.65" fill="none" stroke="#000" stroke-width="1.0"/>
<polyline points="50.04,550.60 52.63,550.60" fill="none" stroke="#000" stroke-width="1.0"/>
<polyline points="50.04,551.90 52.93,552.18" fill="none" stroke="#000" stroke-width="1.0"/>
<polyline points="50.04,553.20 51.96,553.32" fill="none" stroke="#000" stroke-width="1.0"/>
<polyline points="50.04,550.60 50.04,553.20" fill="none" stroke="#000" stroke-width="1.0"/>
<polyline points="48.70,551.90 50.04,551.90" fill="none" stroke="#000" stroke-width="1.0"/>
<polyline points="52.36,554.50 53.99,554.57" fill="none" stroke="#000" stroke-width="1.0"/>
<polyline points="52.36,555.80 54.30,555.62" fill="none" stroke="#000" stroke-width="1.0"/>
<polyline points="52.36,557.10 53.71,557.19" fill="none" stroke="#000" stroke-width="1.0"/>
<polyline points="52.36,554.50 52.36,557.10" fill="none" stroke="#000" stroke-width="1.0"/>
<polyline points="48.71,555.80 52.36,555.80" fill="none" stroke="#000" stroke-width="1.0"/>
<polyline points="50.10,558.40 51.48,558.14" fill="none" stroke="#000" stroke-width="1.0"/>
<polyline points="50.10,559.70 53.18,559.86" fill="none" stroke="#000" stroke-width="1.0"/>
<polyline points="50.10,561.00 52.33,561.07" fill="none" stroke="#000" stroke-width="1.0"/>
<polyline points="50.10,558.40 50.10,561.00" fill="none" stroke="#000" stroke-width="1.0"/>
<polyline points="48.73,559.70 50.10,559.70" fill="none" stroke="#000" stroke-width="1.0"/>
<polyline points="48.75,562.30 54.61,562.30" fill="none" stroke="#000" stroke-width="1.0"/>
<polyline points="51.28,563.60 53.67,563.53" fill="none" stroke="#000" stroke-width="1.0"/>
<polyline points="51.28,564.90 53.40,564.74" fill="none" stroke="#000" stroke-width="1.0"/>
<polyline points="51.28,566.20 52.59,566.16" fill="none" stroke="#000" stroke-width="1.0"/>
<polyline points="51.28,567.50 53.05,567.62" fill="none" stroke="#000" stroke-width="1.0"/>
<polyline points="51.28,563.60 51.28,567.50" fill="none" stroke="#000" stroke-width="1.0"/>
<polyline points="48.75,565.55 51.28,565.55" fill="none" stroke="#000" stroke-width="1.0"/>
<polyline points="52.25,568.80 54.50,568.64" fill="none" stroke="#000" stroke-width="1.0"/>
<polyline points="52.25,570.10 54.34,570.09" fill="none" stroke="#000" stroke-width="1.0"/>
<polyline points="52.25,571.40 54.91,571.68" fill="none" stroke="#000" stroke-width="1.0"/>
<polyline points="52.25,568.80 52.25,571.40" fill="none" stroke="#000" stroke-width="1.0"/>
<polyline points="48.77,570.10 52.25,570.10" fill="none" stroke="#000" stroke-width="1.0"/>
<polyline points="48.79,572.70 52.62,572.70" fill="none" stroke="#000" stroke-width="1.0"/>
<polyline points="48.80,574.00 54.02,574.00" fill="none" stroke="#000" stroke-width="1.0"/>
<polyline points="42.70,460.00 42.70,575.50" fill="none" stroke="#000" stroke-width="1.45"/>
<polygon points="46.0,468 47.6,466 48.4,480 48.8,573.5 46.3,573.5 45.7,530 45.0,480" fill="#000"/>
<polyline points="42.60,460.00 45.00,460.00 45.00,458.30 53.00,458.30" fill="none" stroke="#000" stroke-width="0.9"/>
<polyline points="45.00,460.30 55.00,460.30" fill="none" stroke="#000" stroke-width="0.8"/>
<polyline points="50.12,578.60 51.86,578.80" fill="none" stroke="#000" stroke-width="1.0"/>
<polyline points="50.12,579.90 52.42,580.13" fill="none" stroke="#000" stroke-width="1.0"/>
<polyline points="50.12,581.20 52.54,581.22" fill="none" stroke="#000" stroke-width="1.0"/>
<polyline points="50.12,578.60 50.12,581.20" fill="none" stroke="#000" stroke-width="1.0"/>
<polyline points="41.63,579.90 50.12,579.90" fill="none" stroke="#000" stroke-width="1.0"/>
<polyline points="52.85,582.50 55.60,582.39" fill="none" stroke="#000" stroke-width="1.0"/>
<polyline points="52.85,583.80 55.60,583.79" fill="none" stroke="#000" stroke-width="1.0"/>
<polyline points="52.85,585.10 54.70,585.20" fill="none" stroke="#000" stroke-width="1.0"/>
<polyline points="52.85,586.40 54.21,586.35" fill="none" stroke="#000" stroke-width="1.0"/>
<polyline points="52.85,582.50 52.85,586.40" fill="none" stroke="#000" stroke-width="1.0"/>
<polyline points="42.46,584.45 52.85,584.45" fill="none" stroke="#000" stroke-width="1.0"/>
<polyline points="51.34,587.70 52.66,587.76" fill="none" stroke="#000" stroke-width="1.0"/>
<polyline points="51.34,589.00 54.23,588.96" fill="none" stroke="#000" stroke-width="1.0"/>
<polyline points="51.34,590.30 54.48,590.56" fill="none" stroke="#000" stroke-width="1.0"/>
<polyline points="51.34,587.70 51.34,590.30" fill="none" stroke="#000" stroke-width="1.0"/>
<polyline points="43.58,589.00 51.34,589.00" fill="none" stroke="#000" stroke-width="1.0"/>
<polyline points="52.33,591.60 54.09,591.82" fill="none" stroke="#000" stroke-width="1.0"/>
<polyline points="52.33,592.90 54.26,593.13" fill="none" stroke="#000" stroke-width="1.0"/>
<polyline points="52.33,594.20 55.60,594.49" fill="none" stroke="#000" stroke-width="1.0"/>
<polyline points="52.33,591.60 52.33,594.20" fill="none" stroke="#000" stroke-width="1.0"/>
<polyline points="44.41,592.90 52.33,592.90" fill="none" stroke="#000" stroke-width="1.0"/>
<polyline points="44.66,595.50 54.82,595.50" fill="none" stroke="#000" stroke-width="1.0"/>
<polyline points="44.71,596.80 54.53,596.80" fill="none" stroke="#000" stroke-width="1.0"/>
<polyline points="51.40,598.10 53.33,598.01" fill="none" stroke="#000" stroke-width="1.0"/>
<polyline points="51.40,599.40 54.11,599.43" fill="none" stroke="#000" stroke-width="1.0"/>
<polyline points="51.40,598.10 51.40,599.40" fill="none" stroke="#000" stroke-width="1.0"/>
<polyline points="44.77,598.75 51.40,598.75" fill="none" stroke="#000" stroke-width="1.0"/>
<polyline points="50.19,600.70 51.64,600.42" fill="none" stroke="#000" stroke-width="1.0"/>
<polyline points="50.19,602.00 53.39,602.15" fill="none" stroke="#000" stroke-width="1.0"/>
<polyline points="50.19,603.30 52.67,603.07" fill="none" stroke="#000" stroke-width="1.0"/>
<polyline points="50.19,600.70 50.19,603.30" fill="none" stroke="#000" stroke-width="1.0"/>
<polyline points="44.89,602.00 50.19,602.00" fill="none" stroke="#000" stroke-width="1.0"/>
<polyline points="49.85,604.60 52.90,604.30" fill="none" stroke="#000" stroke-width="1.0"/>
<polyline points="49.85,605.90 51.99,605.81" fill="none" stroke="#000" stroke-width="1.0"/>
<polyline points="49.85,604.60 49.85,605.90" fill="none" stroke="#000" stroke-width="1.0"/>
<polyline points="45.06,605.25 49.85,605.25" fill="none" stroke="#000" stroke-width="1.0"/>
<polyline points="52.00,607.20 54.10,607.26" fill="none" stroke="#000" stroke-width="1.0"/>
<polyline points="52.00,608.50 55.02,608.55" fill="none" stroke="#000" stroke-width="1.0"/>
<polyline points="52.00,607.20 52.00,608.50" fill="none" stroke="#000" stroke-width="1.0"/>
<polyline points="45.18,607.85 52.00,607.85" fill="none" stroke="#000" stroke-width="1.0"/>
<polyline points="52.41,609.80 54.31,609.54" fill="none" stroke="#000" stroke-width="1.0"/>
<polyline points="52.41,611.10 54.71,611.03" fill="none" stroke="#000" stroke-width="1.0"/>
<polyline points="52.41,612.40 55.40,612.17" fill="none" stroke="#000" stroke-width="1.0"/>
<polyline points="52.41,609.80 52.41,612.40" fill="none" stroke="#000" stroke-width="1.0"/>
<polyline points="45.30,611.10 52.41,611.10" fill="none" stroke="#000" stroke-width="1.0"/>
<polyline points="49.55,613.70 52.00,613.67" fill="none" stroke="#000" stroke-width="1.0"/>
<polyline points="49.55,615.00 51.48,615.23" fill="none" stroke="#000" stroke-width="1.0"/>
<polyline points="49.55,613.70 49.55,615.00" fill="none" stroke="#000" stroke-width="1.0"/>
<polyline points="45.47,614.35 49.55,614.35" fill="none" stroke="#000" stroke-width="1.0"/>
<polyline points="52.69,616.30 55.60,616.44" fill="none" stroke="#000" stroke-width="1.0"/>
<polyline points="52.69,617.60 55.01,617.71" fill="none" stroke="#000" stroke-width="1.0"/>
<polyline points="52.69,618.90 55.60,619.16" fill="none" stroke="#000" stroke-width="1.0"/>
<polyline points="52.69,620.20 54.54,620.07" fill="none" stroke="#000" stroke-width="1.0"/>
<polyline points="52.69,616.30 52.69,620.20" fill="none" stroke="#000" stroke-width="1.0"/>
<polyline points="45.59,618.25 52.69,618.25" fill="none" stroke="#000" stroke-width="1.0"/>
<polyline points="51.00,621.50 53.29,621.57" fill="none" stroke="#000" stroke-width="1.0"/>
<polyline points="51.00,622.80 53.95,622.73" fill="none" stroke="#000" stroke-width="1.0"/>
<polyline points="51.00,624.10 53.95,623.99" fill="none" stroke="#000" stroke-width="1.0"/>
<polyline points="51.00,621.50 51.00,624.10" fill="none" stroke="#000" stroke-width="1.0"/>
<polyline points="45.82,622.80 51.00,622.80" fill="none" stroke="#000" stroke-width="1.0"/>
<polyline points="50.12,625.40 53.52,625.65" fill="none" stroke="#000" stroke-width="1.0"/>
<polyline points="50.12,626.70 52.06,626.97" fill="none" stroke="#000" stroke-width="1.0"/>
<polyline points="50.12,625.40 50.12,626.70" fill="none" stroke="#000" stroke-width="1.0"/>
<polyline points="45.99,626.05 50.12,626.05" fill="none" stroke="#000" stroke-width="1.0"/>
<polyline points="50.14,628.00 53.00,627.91" fill="none" stroke="#000" stroke-width="1.0"/>
<polyline points="50.14,629.30 52.32,629.56" fill="none" stroke="#000" stroke-width="1.0"/>
<polyline points="50.14,630.60 52.11,630.69" fill="none" stroke="#000" stroke-width="1.0"/>
<polyline points="50.14,628.00 50.14,630.60" fill="none" stroke="#000" stroke-width="1.0"/>
<polyline points="46.11,629.30 50.14,629.30" fill="none" stroke="#000" stroke-width="1.0"/>
<polyline points="52.28,631.90 54.83,631.91" fill="none" stroke="#000" stroke-width="1.0"/>
<polyline points="52.28,633.20 55.43,633.28" fill="none" stroke="#000" stroke-width="1.0"/>
<polyline points="52.28,631.90 52.28,633.20" fill="none" stroke="#000" stroke-width="1.0"/>
<polyline points="46.38,632.55 52.28,632.55" fill="none" stroke="#000" stroke-width="1.0"/>
<polyline points="49.55,634.50 51.85,634.68" fill="none" stroke="#000" stroke-width="1.0"/>
<polyline points="49.55,635.80 52.70,635.55" fill="none" stroke="#000" stroke-width="1.0"/>
<polyline points="49.55,637.10 51.02,637.32" fill="none" stroke="#000" stroke-width="1.0"/>
<polyline points="49.55,638.40 51.21,638.47" fill="none" stroke="#000" stroke-width="1.0"/>
<polyline points="49.55,634.50 49.55,638.40" fill="none" stroke="#000" stroke-width="1.0"/>
<polyline points="46.63,636.45 49.55,636.45" fill="none" stroke="#000" stroke-width="1.0"/>
<polyline points="47.12,639.70 55.37,639.70" fill="none" stroke="#000" stroke-width="1.0"/>
<polyline points="47.25,641.00 54.28,641.00" fill="none" stroke="#000" stroke-width="1.0"/>
<polyline points="52.02,642.30 53.23,642.56" fill="none" stroke="#000" stroke-width="1.0"/>
<polyline points="52.02,643.60 54.17,643.85" fill="none" stroke="#000" stroke-width="1.0"/>
<polyline points="52.02,644.90 55.09,644.68" fill="none" stroke="#000" stroke-width="1.0"/>
<polyline points="52.02,642.30 52.02,644.90" fill="none" stroke="#000" stroke-width="1.0"/>
<polyline points="47.37,643.60 52.02,643.60" fill="none" stroke="#000" stroke-width="1.0"/>
<polyline points="47.74,646.20 54.92,646.20" fill="none" stroke="#000" stroke-width="1.0"/>
<polyline points="52.39,647.50 55.41,647.34" fill="none" stroke="#000" stroke-width="1.0"/>
<polyline points="52.39,648.80 53.85,648.72" fill="none" stroke="#000" stroke-width="1.0"/>
<polyline points="52.39,650.10 55.43,650.24" fill="none" stroke="#000" stroke-width="1.0"/>
<polyline points="52.39,647.50 52.39,650.10" fill="none" stroke="#000" stroke-width="1.0"/>
<polyline points="47.86,648.80 52.39,648.80" fill="none" stroke="#000" stroke-width="1.0"/>
<polyline points="53.08,651.40 55.60,651.60" fill="none" stroke="#000" stroke-width="1.0"/>
<polyline points="53.08,652.70 54.32,652.40" fill="none" stroke="#000" stroke-width="1.0"/>
<polyline points="53.08,651.40 53.08,652.70" fill="none" stroke="#000" stroke-width="1.0"/>
<polyline points="48.23,652.05 53.08,652.05" fill="none" stroke="#000" stroke-width="1.0"/>
<polyline points="51.79,654.00 53.74,653.78" fill="none" stroke="#000" stroke-width="1.0"/>
<polyline points="51.79,655.30 53.75,655.20" fill="none" stroke="#000" stroke-width="1.0"/>
<polyline points="51.79,654.00 51.79,655.30" fill="none" stroke="#000" stroke-width="1.0"/>
<polyline points="48.48,654.65 51.79,654.65" fill="none" stroke="#000" stroke-width="1.0"/>
<polyline points="52.34,656.60 54.16,656.82" fill="none" stroke="#000" stroke-width="1.0"/>
<polyline points="52.34,657.90 54.75,658.10" fill="none" stroke="#000" stroke-width="1.0"/>
<polyline points="52.34,659.20 54.13,659.00" fill="none" stroke="#000" stroke-width="1.0"/>
<polyline points="52.34,656.60 52.34,659.20" fill="none" stroke="#000" stroke-width="1.0"/>
<polyline points="48.73,657.90 52.34,657.90" fill="none" stroke="#000" stroke-width="1.0"/>
<polyline points="50.50,660.50 53.54,660.53" fill="none" stroke="#000" stroke-width="1.0"/>
<polyline points="50.50,661.80 52.76,661.88" fill="none" stroke="#000" stroke-width="1.0"/>
<polyline points="50.50,663.10 52.24,662.81" fill="none" stroke="#000" stroke-width="1.0"/>
<polyline points="50.50,660.50 50.50,663.10" fill="none" stroke="#000" stroke-width="1.0"/>
<polyline points="49.10,661.80 50.50,661.80" fill="none" stroke="#000" stroke-width="1.0"/>
<polyline points="49.47,664.40 52.96,664.40" fill="none" stroke="#000" stroke-width="1.0"/>
<polyline points="51.53,665.70 53.31,665.58" fill="none" stroke="#000" stroke-width="1.0"/>
<polyline points="51.53,667.00 54.65,666.71" fill="none" stroke="#000" stroke-width="1.0"/>
<polyline points="51.53,665.70 51.53,667.00" fill="none" stroke="#000" stroke-width="1.0"/>
<polyline points="49.59,666.35 51.53,666.35" fill="none" stroke="#000" stroke-width="1.0"/>
<polyline points="49.84,668.30 54.36,668.30" fill="none" stroke="#000" stroke-width="1.0"/>
<polyline points="41.30,583.00 41.30,613.50" fill="none" stroke="#000" stroke-width="1.6"/>
<polyline points="38.40,576.80 38.40,591.20" fill="none" stroke="#000" stroke-width="0.9"/>
<polyline points="36.30,576.80 36.30,584.60" fill="none" stroke="#333" stroke-width="1.6"/>
<polyline points="36.30,576.80 38.40,576.80" fill="none" stroke="#000" stroke-width="0.8"/>
<polyline points="38.40,583.00 41.30,583.00" fill="none" stroke="#000" stroke-width="0.8"/>
<polygon points="43.0,592 45.0,592 46.4,630 50.3,669.5 48.6,669.5 44.4,631 43.0,613" fill="#000"/>
<polyline points="39.60,460.00 39.60,479.80" fill="none" stroke="#000" stroke-width="1.0"/>
<polyline points="39.60,460.00 42.60,460.00" fill="none" stroke="#000" stroke-width="0.8"/>
<polyline points="39.60,479.80 42.60,479.80" fill="none" stroke="#000" stroke-width="0.8"/>
<polyline points="39.60,470.30 19.60,470.30 19.60,580.60 35.30,580.60" fill="none" stroke="#222" stroke-width="0.9"/>
</g>
</svg>
<div class="frame"></div>
</body></html>
